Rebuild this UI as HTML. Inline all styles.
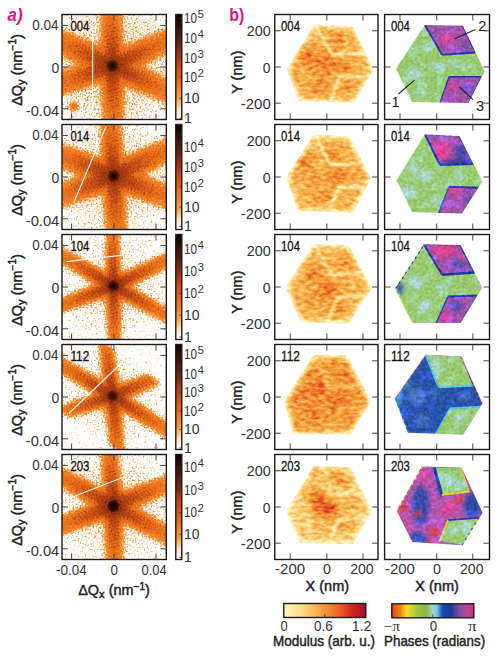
<!DOCTYPE html><html><head><meta charset="utf-8"><style>html,body{margin:0;padding:0;background:#fff;width:500px;height:662px;overflow:hidden}svg{display:block}text{font-family:"Liberation Sans",sans-serif}</style></head><body>
<svg width="500" height="662" viewBox="0 0 500 662">
<defs>
<filter id="dcm" x="0" y="0" width="1" height="1" filterUnits="objectBoundingBox" color-interpolation-filters="sRGB">
<feComponentTransfer in="SourceGraphic" result="S"><feFuncR type="linear" slope="0.9091"/><feFuncG type="linear" slope="0.9091"/><feFuncB type="linear" slope="0.9091"/></feComponentTransfer>
<feComponentTransfer in="S" result="J"><feFuncR type="linear" slope="-1.3" intercept="1"/><feFuncG type="linear" slope="-1.3" intercept="1"/><feFuncB type="linear" slope="-1.3" intercept="1"/></feComponentTransfer>
<feTurbulence type="fractalNoise" baseFrequency="0.55" numOctaves="2" seed="3" result="n"/>
<feColorMatrix in="n" type="matrix" values="1 0 0 0 0 1 0 0 0 0 1 0 0 0 0 0 0 0 0 1" result="ng"/>
<feComposite in="J" in2="ng" operator="arithmetic" k1="1" k2="0" k3="0" k4="0" result="M"/>
<feComposite in="S" in2="M" operator="arithmetic" k1="0" k2="1.6500" k3="1.0" k4="-0.5000" result="s"/>
<feComponentTransfer in="s"><feFuncR type="table" tableValues="1.000 1.000 1.000 1.000 1.000 1.000 1.000 1.000 1.000 1.000 1.000 1.000 1.000 1.000 1.000 1.000 1.000 1.000 1.000 1.000 1.000 1.000 1.000 1.000 1.000 0.998 0.996 0.995 0.993 0.991 0.989 0.987 0.986 0.983 0.980 0.977 0.974 0.971 0.968 0.965 0.962 0.960 0.958 0.957 0.955 0.954 0.952 0.951 0.949 0.947 0.945 0.944 0.942 0.940 0.938 0.936 0.935 0.932 0.928 0.923 0.919 0.914 0.910 0.905 0.901 0.896 0.887 0.875 0.863 0.850 0.838 0.826 0.813 0.801 0.782 0.762 0.742 0.723 0.703 0.683 0.663 0.644 0.622 0.590 0.559 0.527 0.496 0.464 0.433 0.402 0.370 0.341 0.315 0.296 0.280 0.264 0.249 0.233 0.217 0.201 0.186 0.170 0.154 0.138 0.124 0.119 0.114 0.108 0.103 0.098 0.092 0.087 0.082 0.076 0.071 0.066 0.061 0.055 0.050 0.045 0.039"/><feFuncG type="table" tableValues="1.000 1.000 1.000 1.000 1.000 1.000 1.000 1.000 1.000 1.000 1.000 1.000 1.000 1.000 1.000 1.000 0.995 0.988 0.982 0.975 0.968 0.961 0.955 0.948 0.941 0.927 0.912 0.898 0.884 0.869 0.855 0.841 0.826 0.810 0.790 0.769 0.748 0.728 0.707 0.687 0.666 0.649 0.634 0.618 0.603 0.587 0.572 0.557 0.541 0.534 0.527 0.520 0.512 0.505 0.498 0.491 0.484 0.477 0.470 0.464 0.458 0.452 0.445 0.439 0.433 0.426 0.416 0.403 0.390 0.376 0.363 0.349 0.336 0.323 0.312 0.301 0.290 0.279 0.269 0.258 0.247 0.236 0.225 0.210 0.196 0.182 0.167 0.153 0.139 0.124 0.110 0.098 0.089 0.082 0.077 0.071 0.066 0.061 0.055 0.050 0.044 0.039 0.033 0.028 0.023 0.022 0.020 0.019 0.017 0.016 0.015 0.013 0.012 0.010 0.009 0.007 0.006 0.004 0.003 0.001 0.000"/><feFuncB type="table" tableValues="1.000 1.000 1.000 1.000 1.000 1.000 1.000 1.000 1.000 1.000 1.000 1.000 1.000 1.000 1.000 1.000 0.990 0.976 0.962 0.948 0.934 0.920 0.906 0.892 0.878 0.850 0.821 0.792 0.763 0.735 0.706 0.677 0.648 0.618 0.586 0.553 0.520 0.487 0.454 0.421 0.388 0.359 0.333 0.306 0.279 0.253 0.226 0.199 0.173 0.166 0.160 0.154 0.147 0.141 0.135 0.129 0.122 0.117 0.115 0.114 0.112 0.110 0.108 0.106 0.105 0.103 0.101 0.099 0.097 0.095 0.093 0.091 0.089 0.086 0.085 0.083 0.081 0.079 0.077 0.076 0.074 0.072 0.070 0.066 0.063 0.059 0.056 0.052 0.048 0.045 0.041 0.038 0.037 0.035 0.034 0.033 0.032 0.031 0.030 0.029 0.028 0.027 0.025 0.024 0.023 0.022 0.020 0.019 0.017 0.016 0.015 0.013 0.012 0.010 0.009 0.007 0.006 0.004 0.003 0.001 0.000"/><feFuncA type="linear" slope="0" intercept="1"/></feComponentTransfer><feGaussianBlur stdDeviation="0.45"/>
</filter>
<filter id="bl3" x="-20%" y="-20%" width="140%" height="140%"><feGaussianBlur stdDeviation="3"/></filter>
<filter id="bl07" x="-20%" y="-20%" width="140%" height="140%"><feGaussianBlur stdDeviation="0.7"/></filter>
<filter id="bl2" x="-20%" y="-20%" width="140%" height="140%"><feGaussianBlur stdDeviation="2"/></filter>
<radialGradient id="glow"><stop offset="0" stop-color="#fff" stop-opacity="0.55"/><stop offset="1" stop-color="#fff" stop-opacity="0"/></radialGradient>
<radialGradient id="core"><stop offset="0" stop-color="#fff" stop-opacity="1"/><stop offset="0.35" stop-color="#fff" stop-opacity="0.85"/><stop offset="1" stop-color="#fff" stop-opacity="0"/></radialGradient>

<filter id="mcm" x="0" y="0" width="1" height="1" filterUnits="objectBoundingBox" color-interpolation-filters="sRGB">
<feTurbulence type="fractalNoise" baseFrequency="0.16 0.3" numOctaves="2" seed="7" result="n"/>
<feColorMatrix in="n" type="matrix" values="1 0 0 0 0 1 0 0 0 0 1 0 0 0 0 0 0 0 0 1" result="ng"/>
<feComposite in="SourceGraphic" in2="ng" operator="arithmetic" k1="0" k2="1" k3="0.7" k4="-0.35" result="s"/>
<feComponentTransfer in="s"><feFuncR type="table" tableValues="1.000 0.999 0.998 0.996 0.995 0.994 0.993 0.992 0.991 0.989 0.988 0.985 0.982 0.979 0.976 0.973 0.969 0.966 0.963 0.960 0.957 0.952 0.947 0.942 0.937 0.932 0.924 0.917 0.909 0.902 0.894 0.867 0.841 0.814 0.787 0.761 0.734 0.707 0.681 0.654 0.627"/><feFuncG type="table" tableValues="0.973 0.958 0.943 0.928 0.913 0.898 0.883 0.868 0.853 0.838 0.824 0.804 0.784 0.765 0.745 0.725 0.706 0.686 0.667 0.647 0.627 0.598 0.569 0.539 0.510 0.480 0.446 0.413 0.380 0.347 0.314 0.289 0.264 0.238 0.213 0.188 0.163 0.138 0.113 0.088 0.063"/><feFuncB type="table" tableValues="0.784 0.754 0.723 0.693 0.662 0.631 0.601 0.570 0.540 0.509 0.478 0.453 0.427 0.401 0.375 0.349 0.323 0.297 0.271 0.245 0.220 0.211 0.203 0.195 0.187 0.178 0.166 0.154 0.142 0.130 0.118 0.122 0.127 0.132 0.136 0.141 0.146 0.151 0.155 0.160 0.165"/><feFuncA type="linear" slope="0" intercept="1"/></feComponentTransfer><feGaussianBlur stdDeviation="0.4"/>
</filter>
<filter id="pnz" x="0" y="0" width="1" height="1" filterUnits="objectBoundingBox" color-interpolation-filters="sRGB">
<feTurbulence type="fractalNoise" baseFrequency="0.11" numOctaves="3" seed="5" result="lo"/>
<feComponentTransfer in="lo" result="lot"><feFuncR type="linear" slope="3.5" intercept="-1.75"/></feComponentTransfer>
<feColorMatrix in="lot" type="matrix" values="0.05 0 0 0 0  0.06 0 0 0 0  0.26 0 0 0 0  0 0 0 0 1" result="cy"/>
<feComposite in="SourceGraphic" in2="cy" operator="arithmetic" k1="0" k2="1" k3="1" k4="0" result="s1"/>
<feTurbulence type="fractalNoise" baseFrequency="0.35" numOctaves="2" seed="11" result="n"/>
<feColorMatrix in="n" type="matrix" values="1 0 0 0 0 1 0 0 0 0 1 0 0 0 0 0 0 0 0 1" result="ng"/>
<feComposite in="s1" in2="ng" operator="arithmetic" k1="0" k2="1" k3="0.22" k4="-0.11"/>
<feGaussianBlur stdDeviation="0.4"/>
</filter>
<filter id="bl4" x="-50%" y="-50%" width="200%" height="200%"><feGaussianBlur stdDeviation="4"/></filter>
<filter id="bl1" x="-20%" y="-20%" width="140%" height="140%"><feGaussianBlur stdDeviation="1"/></filter>

</defs>
<clipPath id="cpa0"><rect x="62" y="14.5" width="104.30000000000001" height="105.0"/></clipPath>
<radialGradient id="gl0" gradientUnits="userSpaceOnUse" cx="112.4" cy="65.9" r="90"><stop offset="0" stop-color="#5c5c5c"/><stop offset="0.55" stop-color="#373737"/><stop offset="1" stop-color="#000"/></radialGradient>
<radialGradient id="gn0" gradientUnits="userSpaceOnUse" cx="112.4" cy="65.9" r="34"><stop offset="0" stop-color="#808080"/><stop offset="0.5" stop-color="#545454"/><stop offset="1" stop-color="#000"/></radialGradient>
<radialGradient id="co0" gradientUnits="userSpaceOnUse" cx="112.4" cy="65.9" r="18"><stop offset="0" stop-color="#fff"/><stop offset="0.15" stop-color="#ebebeb"/><stop offset="0.35" stop-color="#c2c2c2"/><stop offset="0.65" stop-color="#a3a3a3"/><stop offset="1" stop-color="#000"/></radialGradient>
<g clip-path="url(#cpa0)"><g filter="url(#dcm)">
<rect x="62" y="14.5" width="104.30000000000001" height="105.0" fill="#000"/>
<g filter="url(#bl2)">
<rect x="57" y="9.5" width="114.30000000000001" height="115.0" fill="url(#gl0)"/>
<circle cx="112.4" cy="65.9" r="34" fill="url(#gn0)" style="mix-blend-mode:lighten"/>
<linearGradient id="ag0_-91" x1="0" y1="0" x2="1" y2="0"><stop offset="0" stop-color="#a3a3a3"/><stop offset="0.4" stop-color="#8c8c8c"/><stop offset="1" stop-color="#6e6e6e"/></linearGradient>
<linearGradient id="ag0_-91b" x1="0" y1="0" x2="1" y2="0"><stop offset="0" stop-color="#cccccc"/><stop offset="0.3" stop-color="#b2b2b2"/><stop offset="0.65" stop-color="#999999"/><stop offset="1" stop-color="#808080"/></linearGradient>
<g transform="translate(112.4,65.9) rotate(-91.02)" style="mix-blend-mode:lighten"><rect x="0" y="-10.8" width="66.00892785976178" height="21.6" fill="url(#ag0_-91)"/></g>
<g transform="translate(112.4,65.9) rotate(-91.02)" style="mix-blend-mode:lighten"><rect x="0" y="-4.9" width="66.00892785976178" height="9.7" fill="url(#ag0_-91b)"/></g>
<linearGradient id="ag0_88" x1="0" y1="0" x2="1" y2="0"><stop offset="0" stop-color="#a3a3a3"/><stop offset="0.4" stop-color="#8c8c8c"/><stop offset="1" stop-color="#6e6e6e"/></linearGradient>
<linearGradient id="ag0_88b" x1="0" y1="0" x2="1" y2="0"><stop offset="0" stop-color="#cccccc"/><stop offset="0.3" stop-color="#b2b2b2"/><stop offset="0.65" stop-color="#999999"/><stop offset="1" stop-color="#808080"/></linearGradient>
<g transform="translate(112.4,65.9) rotate(88.98)" style="mix-blend-mode:lighten"><rect x="0" y="-10.8" width="66.00892785976178" height="21.6" fill="url(#ag0_88)"/></g>
<g transform="translate(112.4,65.9) rotate(88.98)" style="mix-blend-mode:lighten"><rect x="0" y="-4.9" width="66.00892785976178" height="9.7" fill="url(#ag0_88b)"/></g>
<linearGradient id="ag0_-24" x1="0" y1="0" x2="1" y2="0"><stop offset="0" stop-color="#a3a3a3"/><stop offset="0.4" stop-color="#8c8c8c"/><stop offset="1" stop-color="#6e6e6e"/></linearGradient>
<linearGradient id="ag0_-24b" x1="0" y1="0" x2="1" y2="0"><stop offset="0" stop-color="#cccccc"/><stop offset="0.3" stop-color="#b2b2b2"/><stop offset="0.65" stop-color="#999999"/><stop offset="1" stop-color="#808080"/></linearGradient>
<g transform="translate(112.4,65.9) rotate(-24.90)" style="mix-blend-mode:lighten"><rect x="0" y="-12.0" width="71.74139616173252" height="24.0" fill="url(#ag0_-24)"/></g>
<g transform="translate(112.4,65.9) rotate(-24.90)" style="mix-blend-mode:lighten"><rect x="0" y="-5.4" width="71.74139616173252" height="10.8" fill="url(#ag0_-24b)"/></g>
<linearGradient id="ag0_161" x1="0" y1="0" x2="1" y2="0"><stop offset="0" stop-color="#a3a3a3"/><stop offset="0.4" stop-color="#8c8c8c"/><stop offset="1" stop-color="#6e6e6e"/></linearGradient>
<linearGradient id="ag0_161b" x1="0" y1="0" x2="1" y2="0"><stop offset="0" stop-color="#cccccc"/><stop offset="0.3" stop-color="#b2b2b2"/><stop offset="0.65" stop-color="#999999"/><stop offset="1" stop-color="#808080"/></linearGradient>
<g transform="translate(112.4,65.9) rotate(161.26)" style="mix-blend-mode:lighten"><rect x="0" y="-12.0" width="69.13543776789007" height="24.0" fill="url(#ag0_161)"/></g>
<g transform="translate(112.4,65.9) rotate(161.26)" style="mix-blend-mode:lighten"><rect x="0" y="-5.4" width="69.13543776789007" height="10.8" fill="url(#ag0_161b)"/></g>
<linearGradient id="ag0_-155" x1="0" y1="0" x2="1" y2="0"><stop offset="0" stop-color="#a3a3a3"/><stop offset="0.4" stop-color="#8c8c8c"/><stop offset="1" stop-color="#6e6e6e"/></linearGradient>
<linearGradient id="ag0_-155b" x1="0" y1="0" x2="1" y2="0"><stop offset="0" stop-color="#cccccc"/><stop offset="0.3" stop-color="#b2b2b2"/><stop offset="0.65" stop-color="#999999"/><stop offset="1" stop-color="#808080"/></linearGradient>
<g transform="translate(112.4,65.9) rotate(-155.10)" style="mix-blend-mode:lighten"><rect x="0" y="-12.6" width="71.74139616173252" height="25.2" fill="url(#ag0_-155)"/></g>
<g transform="translate(112.4,65.9) rotate(-155.10)" style="mix-blend-mode:lighten"><rect x="0" y="-5.7" width="71.74139616173252" height="11.3" fill="url(#ag0_-155b)"/></g>
<linearGradient id="ag0_24" x1="0" y1="0" x2="1" y2="0"><stop offset="0" stop-color="#a3a3a3"/><stop offset="0.4" stop-color="#8c8c8c"/><stop offset="1" stop-color="#6e6e6e"/></linearGradient>
<linearGradient id="ag0_24b" x1="0" y1="0" x2="1" y2="0"><stop offset="0" stop-color="#cccccc"/><stop offset="0.3" stop-color="#b2b2b2"/><stop offset="0.65" stop-color="#999999"/><stop offset="1" stop-color="#808080"/></linearGradient>
<g transform="translate(112.4,65.9) rotate(24.90)" style="mix-blend-mode:lighten"><rect x="0" y="-12.0" width="71.74139616173252" height="24.0" fill="url(#ag0_24)"/></g>
<g transform="translate(112.4,65.9) rotate(24.90)" style="mix-blend-mode:lighten"><rect x="0" y="-5.4" width="71.74139616173252" height="10.8" fill="url(#ag0_24b)"/></g>
<circle cx="112.4" cy="65.9" r="18" fill="url(#co0)" style="mix-blend-mode:lighten"/>
<circle cx="73.5" cy="106.4" r="3.5" fill="#a8a8a8" style="mix-blend-mode:lighten"/>
</g>
<g filter="url(#bl07)">
<g transform="translate(112.4,65.9) rotate(-91.02)" style="mix-blend-mode:lighten">
<line x1="5.3" y1="-6.3" x2="8.3" y2="6.3" stroke="#bfbfbf" stroke-width="1.2"/>
<line x1="8.7" y1="-6.3" x2="11.7" y2="6.3" stroke="#bdbdbd" stroke-width="1.2"/>
<line x1="12.1" y1="-6.3" x2="15.1" y2="6.3" stroke="#bababa" stroke-width="1.2"/>
<line x1="15.5" y1="-6.3" x2="18.5" y2="6.3" stroke="#b8b8b8" stroke-width="1.2"/>
<line x1="18.9" y1="-6.3" x2="21.9" y2="6.3" stroke="#b5b5b5" stroke-width="1.2"/>
<line x1="22.3" y1="-6.3" x2="25.3" y2="6.3" stroke="#b2b2b2" stroke-width="1.2"/>
<line x1="25.7" y1="-6.3" x2="28.7" y2="6.3" stroke="#b0b0b0" stroke-width="1.2"/>
<line x1="29.1" y1="-6.3" x2="32.1" y2="6.3" stroke="#adadad" stroke-width="1.2"/>
<line x1="32.5" y1="-6.3" x2="35.5" y2="6.3" stroke="#ababab" stroke-width="1.2"/>
<line x1="35.9" y1="-6.3" x2="38.9" y2="6.3" stroke="#a8a8a8" stroke-width="1.2"/>
<line x1="39.3" y1="-6.3" x2="42.3" y2="6.3" stroke="#a6a6a6" stroke-width="1.2"/>
</g>
<g transform="translate(112.4,65.9) rotate(88.98)" style="mix-blend-mode:lighten">
<line x1="5.3" y1="-6.3" x2="8.3" y2="6.3" stroke="#bfbfbf" stroke-width="1.2"/>
<line x1="8.7" y1="-6.3" x2="11.7" y2="6.3" stroke="#bdbdbd" stroke-width="1.2"/>
<line x1="12.1" y1="-6.3" x2="15.1" y2="6.3" stroke="#bababa" stroke-width="1.2"/>
<line x1="15.5" y1="-6.3" x2="18.5" y2="6.3" stroke="#b8b8b8" stroke-width="1.2"/>
<line x1="18.9" y1="-6.3" x2="21.9" y2="6.3" stroke="#b5b5b5" stroke-width="1.2"/>
<line x1="22.3" y1="-6.3" x2="25.3" y2="6.3" stroke="#b2b2b2" stroke-width="1.2"/>
<line x1="25.7" y1="-6.3" x2="28.7" y2="6.3" stroke="#b0b0b0" stroke-width="1.2"/>
<line x1="29.1" y1="-6.3" x2="32.1" y2="6.3" stroke="#adadad" stroke-width="1.2"/>
<line x1="32.5" y1="-6.3" x2="35.5" y2="6.3" stroke="#ababab" stroke-width="1.2"/>
<line x1="35.9" y1="-6.3" x2="38.9" y2="6.3" stroke="#a8a8a8" stroke-width="1.2"/>
<line x1="39.3" y1="-6.3" x2="42.3" y2="6.3" stroke="#a6a6a6" stroke-width="1.2"/>
</g>
<g transform="translate(112.4,65.9) rotate(-24.90)" style="mix-blend-mode:lighten">
<line x1="5.3" y1="-7.0" x2="8.3" y2="7.0" stroke="#bfbfbf" stroke-width="1.2"/>
<line x1="8.7" y1="-7.0" x2="11.7" y2="7.0" stroke="#bdbdbd" stroke-width="1.2"/>
<line x1="12.1" y1="-7.0" x2="15.1" y2="7.0" stroke="#bababa" stroke-width="1.2"/>
<line x1="15.5" y1="-7.0" x2="18.5" y2="7.0" stroke="#b8b8b8" stroke-width="1.2"/>
<line x1="18.9" y1="-7.0" x2="21.9" y2="7.0" stroke="#b5b5b5" stroke-width="1.2"/>
<line x1="22.3" y1="-7.0" x2="25.3" y2="7.0" stroke="#b2b2b2" stroke-width="1.2"/>
<line x1="25.7" y1="-7.0" x2="28.7" y2="7.0" stroke="#b0b0b0" stroke-width="1.2"/>
<line x1="29.1" y1="-7.0" x2="32.1" y2="7.0" stroke="#adadad" stroke-width="1.2"/>
<line x1="32.5" y1="-7.0" x2="35.5" y2="7.0" stroke="#ababab" stroke-width="1.2"/>
<line x1="35.9" y1="-7.0" x2="38.9" y2="7.0" stroke="#a8a8a8" stroke-width="1.2"/>
<line x1="39.3" y1="-7.0" x2="42.3" y2="7.0" stroke="#a6a6a6" stroke-width="1.2"/>
</g>
<g transform="translate(112.4,65.9) rotate(161.26)" style="mix-blend-mode:lighten">
<line x1="5.3" y1="-7.0" x2="8.3" y2="7.0" stroke="#bfbfbf" stroke-width="1.2"/>
<line x1="8.7" y1="-7.0" x2="11.7" y2="7.0" stroke="#bdbdbd" stroke-width="1.2"/>
<line x1="12.1" y1="-7.0" x2="15.1" y2="7.0" stroke="#bababa" stroke-width="1.2"/>
<line x1="15.5" y1="-7.0" x2="18.5" y2="7.0" stroke="#b8b8b8" stroke-width="1.2"/>
<line x1="18.9" y1="-7.0" x2="21.9" y2="7.0" stroke="#b5b5b5" stroke-width="1.2"/>
<line x1="22.3" y1="-7.0" x2="25.3" y2="7.0" stroke="#b2b2b2" stroke-width="1.2"/>
<line x1="25.7" y1="-7.0" x2="28.7" y2="7.0" stroke="#b0b0b0" stroke-width="1.2"/>
<line x1="29.1" y1="-7.0" x2="32.1" y2="7.0" stroke="#adadad" stroke-width="1.2"/>
<line x1="32.5" y1="-7.0" x2="35.5" y2="7.0" stroke="#ababab" stroke-width="1.2"/>
<line x1="35.9" y1="-7.0" x2="38.9" y2="7.0" stroke="#a8a8a8" stroke-width="1.2"/>
<line x1="39.3" y1="-7.0" x2="42.3" y2="7.0" stroke="#a6a6a6" stroke-width="1.2"/>
</g>
<g transform="translate(112.4,65.9) rotate(-155.10)" style="mix-blend-mode:lighten">
<line x1="5.3" y1="-7.3" x2="8.3" y2="7.3" stroke="#bfbfbf" stroke-width="1.2"/>
<line x1="8.7" y1="-7.3" x2="11.7" y2="7.3" stroke="#bdbdbd" stroke-width="1.2"/>
<line x1="12.1" y1="-7.3" x2="15.1" y2="7.3" stroke="#bababa" stroke-width="1.2"/>
<line x1="15.5" y1="-7.3" x2="18.5" y2="7.3" stroke="#b8b8b8" stroke-width="1.2"/>
<line x1="18.9" y1="-7.3" x2="21.9" y2="7.3" stroke="#b5b5b5" stroke-width="1.2"/>
<line x1="22.3" y1="-7.3" x2="25.3" y2="7.3" stroke="#b2b2b2" stroke-width="1.2"/>
<line x1="25.7" y1="-7.3" x2="28.7" y2="7.3" stroke="#b0b0b0" stroke-width="1.2"/>
<line x1="29.1" y1="-7.3" x2="32.1" y2="7.3" stroke="#adadad" stroke-width="1.2"/>
<line x1="32.5" y1="-7.3" x2="35.5" y2="7.3" stroke="#ababab" stroke-width="1.2"/>
<line x1="35.9" y1="-7.3" x2="38.9" y2="7.3" stroke="#a8a8a8" stroke-width="1.2"/>
<line x1="39.3" y1="-7.3" x2="42.3" y2="7.3" stroke="#a6a6a6" stroke-width="1.2"/>
</g>
<g transform="translate(112.4,65.9) rotate(24.90)" style="mix-blend-mode:lighten">
<line x1="5.3" y1="-7.0" x2="8.3" y2="7.0" stroke="#bfbfbf" stroke-width="1.2"/>
<line x1="8.7" y1="-7.0" x2="11.7" y2="7.0" stroke="#bdbdbd" stroke-width="1.2"/>
<line x1="12.1" y1="-7.0" x2="15.1" y2="7.0" stroke="#bababa" stroke-width="1.2"/>
<line x1="15.5" y1="-7.0" x2="18.5" y2="7.0" stroke="#b8b8b8" stroke-width="1.2"/>
<line x1="18.9" y1="-7.0" x2="21.9" y2="7.0" stroke="#b5b5b5" stroke-width="1.2"/>
<line x1="22.3" y1="-7.0" x2="25.3" y2="7.0" stroke="#b2b2b2" stroke-width="1.2"/>
<line x1="25.7" y1="-7.0" x2="28.7" y2="7.0" stroke="#b0b0b0" stroke-width="1.2"/>
<line x1="29.1" y1="-7.0" x2="32.1" y2="7.0" stroke="#adadad" stroke-width="1.2"/>
<line x1="32.5" y1="-7.0" x2="35.5" y2="7.0" stroke="#ababab" stroke-width="1.2"/>
<line x1="35.9" y1="-7.0" x2="38.9" y2="7.0" stroke="#a8a8a8" stroke-width="1.2"/>
<line x1="39.3" y1="-7.0" x2="42.3" y2="7.0" stroke="#a6a6a6" stroke-width="1.2"/>
</g>
</g></g>
<line x1="92.6" y1="15" x2="92.6" y2="119" stroke="#fff" stroke-width="1.2" opacity="0.9"/>
</g>
<rect x="62" y="14.5" width="104.30000000000001" height="105.0" fill="none" stroke="#1a1a1a" stroke-width="1.4"/>
<line x1="62" y1="25.4" x2="68" y2="25.4" stroke="#444" stroke-width="1"/>
<line x1="166.3" y1="25.4" x2="160.3" y2="25.4" stroke="#444" stroke-width="1"/>
<line x1="62" y1="67.0" x2="68" y2="67.0" stroke="#444" stroke-width="1"/>
<line x1="166.3" y1="67.0" x2="160.3" y2="67.0" stroke="#444" stroke-width="1"/>
<line x1="62" y1="108.8" x2="68" y2="108.8" stroke="#444" stroke-width="1"/>
<line x1="166.3" y1="108.8" x2="160.3" y2="108.8" stroke="#444" stroke-width="1"/>
<line x1="71.6" y1="119.5" x2="71.6" y2="113.5" stroke="#444" stroke-width="1"/>
<line x1="71.6" y1="14.5" x2="71.6" y2="20.5" stroke="#444" stroke-width="1"/>
<line x1="113.9" y1="119.5" x2="113.9" y2="113.5" stroke="#444" stroke-width="1"/>
<line x1="113.9" y1="14.5" x2="113.9" y2="20.5" stroke="#444" stroke-width="1"/>
<line x1="156.0" y1="119.5" x2="156.0" y2="113.5" stroke="#444" stroke-width="1"/>
<line x1="156.0" y1="14.5" x2="156.0" y2="20.5" stroke="#444" stroke-width="1"/>
<text x="70.4" y="30.7" font-size="14.2" text-anchor="start" fill="#111" textLength="18.8" lengthAdjust="spacingAndGlyphs" stroke="#111" stroke-width="0.3">004</text>
<text x="32.3" y="29.8" font-size="15" fill="#333" textLength="26.2" lengthAdjust="spacingAndGlyphs" >0.04</text>
<text x="51.5" y="72.7" font-size="15" fill="#333" textLength="7.8" lengthAdjust="spacingAndGlyphs" >0</text>
<text x="25.8" y="115.9" font-size="15" fill="#333" textLength="33.5" lengthAdjust="spacingAndGlyphs" >-0.04</text>
<text transform="translate(21.5,70.0) rotate(-90)" font-size="14.5" text-anchor="middle" fill="#222" stroke="#222" stroke-width="0.45">ΔQ<tspan font-size="11" dy="3">y</tspan><tspan dy="-3"> (nm</tspan><tspan font-size="10" dy="-5.5">−1</tspan><tspan dy="5.5">)</tspan></text>
<linearGradient id="cbg0" x1="0" y1="1" x2="0" y2="0"><stop offset="0" stop-color="#ffffff"/><stop offset="0.1" stop-color="#fce2c4"/><stop offset="0.2" stop-color="#f5a445"/><stop offset="0.36" stop-color="#ea6e18"/><stop offset="0.56" stop-color="#bf3e18"/><stop offset="0.76" stop-color="#5a1c10"/><stop offset="1" stop-color="#100404"/></linearGradient>
<rect x="175.8" y="14.5" width="6" height="105.0" fill="url(#cbg0)" stroke="#1a1a1a" stroke-width="1.4"/>
<line x1="181.8" y1="18.2" x2="179.3" y2="18.2" stroke="#333" stroke-width="0.8"/>
<text x="184" y="23.1" font-size="14" fill="#333"><tspan textLength="13" lengthAdjust="spacingAndGlyphs">10</tspan><tspan font-size="11" dx="0.8" dy="-5">5</tspan></text>
<line x1="181.8" y1="38.1" x2="179.3" y2="38.1" stroke="#333" stroke-width="0.8"/>
<text x="184" y="43.0" font-size="14" fill="#333"><tspan textLength="13" lengthAdjust="spacingAndGlyphs">10</tspan><tspan font-size="11" dx="0.8" dy="-5">4</tspan></text>
<line x1="181.8" y1="58.0" x2="179.3" y2="58.0" stroke="#333" stroke-width="0.8"/>
<text x="184" y="62.9" font-size="14" fill="#333"><tspan textLength="13" lengthAdjust="spacingAndGlyphs">10</tspan><tspan font-size="11" dx="0.8" dy="-5">3</tspan></text>
<line x1="181.8" y1="77.0" x2="179.3" y2="77.0" stroke="#333" stroke-width="0.8"/>
<text x="184" y="81.9" font-size="14" fill="#333"><tspan textLength="13" lengthAdjust="spacingAndGlyphs">10</tspan><tspan font-size="11" dx="0.8" dy="-5">2</tspan></text>
<line x1="181.8" y1="98.3" x2="179.3" y2="98.3" stroke="#333" stroke-width="0.8"/>
<text x="184" y="103.2" font-size="14" fill="#333">10</text>
<line x1="181.8" y1="118.3" x2="179.3" y2="118.3" stroke="#333" stroke-width="0.8"/>
<text x="184" y="123.2" font-size="14" fill="#333">1</text>
<clipPath id="cpa1"><rect x="62" y="124.5" width="104.30000000000001" height="105.0"/></clipPath>
<radialGradient id="gl1" gradientUnits="userSpaceOnUse" cx="113.5" cy="176.0" r="80"><stop offset="0" stop-color="#575757"/><stop offset="0.55" stop-color="#303030"/><stop offset="1" stop-color="#000"/></radialGradient>
<radialGradient id="gn1" gradientUnits="userSpaceOnUse" cx="113.5" cy="176.0" r="34"><stop offset="0" stop-color="#808080"/><stop offset="0.5" stop-color="#545454"/><stop offset="1" stop-color="#000"/></radialGradient>
<radialGradient id="co1" gradientUnits="userSpaceOnUse" cx="113.5" cy="176.0" r="18"><stop offset="0" stop-color="#fff"/><stop offset="0.15" stop-color="#ebebeb"/><stop offset="0.35" stop-color="#c2c2c2"/><stop offset="0.65" stop-color="#a3a3a3"/><stop offset="1" stop-color="#000"/></radialGradient>
<g clip-path="url(#cpa1)"><g filter="url(#dcm)">
<rect x="62" y="124.5" width="104.30000000000001" height="105.0" fill="#000"/>
<g filter="url(#bl2)">
<rect x="57" y="119.5" width="114.30000000000001" height="115.0" fill="url(#gl1)"/>
<circle cx="113.5" cy="176.0" r="34" fill="url(#gn1)" style="mix-blend-mode:lighten"/>
<linearGradient id="ag1_-93" x1="0" y1="0" x2="1" y2="0"><stop offset="0" stop-color="#a3a3a3"/><stop offset="0.4" stop-color="#8c8c8c"/><stop offset="1" stop-color="#6e6e6e"/></linearGradient>
<linearGradient id="ag1_-93b" x1="0" y1="0" x2="1" y2="0"><stop offset="0" stop-color="#cccccc"/><stop offset="0.3" stop-color="#b2b2b2"/><stop offset="0.65" stop-color="#999999"/><stop offset="1" stop-color="#808080"/></linearGradient>
<g transform="translate(113.5,176.0) rotate(-93.07)" style="mix-blend-mode:lighten"><rect x="0" y="-10.8" width="66.0802995712398" height="21.6" fill="url(#ag1_-93)"/></g>
<g transform="translate(113.5,176.0) rotate(-93.07)" style="mix-blend-mode:lighten"><rect x="0" y="-4.9" width="66.0802995712398" height="9.7" fill="url(#ag1_-93b)"/></g>
<linearGradient id="ag1_86" x1="0" y1="0" x2="1" y2="0"><stop offset="0" stop-color="#a3a3a3"/><stop offset="0.4" stop-color="#8c8c8c"/><stop offset="1" stop-color="#6e6e6e"/></linearGradient>
<linearGradient id="ag1_86b" x1="0" y1="0" x2="1" y2="0"><stop offset="0" stop-color="#cccccc"/><stop offset="0.3" stop-color="#b2b2b2"/><stop offset="0.65" stop-color="#999999"/><stop offset="1" stop-color="#808080"/></linearGradient>
<g transform="translate(113.5,176.0) rotate(86.93)" style="mix-blend-mode:lighten"><rect x="0" y="-10.8" width="66.0802995712398" height="21.6" fill="url(#ag1_86)"/></g>
<g transform="translate(113.5,176.0) rotate(86.93)" style="mix-blend-mode:lighten"><rect x="0" y="-4.9" width="66.0802995712398" height="9.7" fill="url(#ag1_86b)"/></g>
<linearGradient id="ag1_-25" x1="0" y1="0" x2="1" y2="0"><stop offset="0" stop-color="#a3a3a3"/><stop offset="0.4" stop-color="#8c8c8c"/><stop offset="1" stop-color="#6e6e6e"/></linearGradient>
<linearGradient id="ag1_-25b" x1="0" y1="0" x2="1" y2="0"><stop offset="0" stop-color="#cccccc"/><stop offset="0.3" stop-color="#b2b2b2"/><stop offset="0.65" stop-color="#999999"/><stop offset="1" stop-color="#808080"/></linearGradient>
<g transform="translate(113.5,176.0) rotate(-25.74)" style="mix-blend-mode:lighten"><rect x="0" y="-12.0" width="72.16912416947821" height="24.0" fill="url(#ag1_-25)"/></g>
<g transform="translate(113.5,176.0) rotate(-25.74)" style="mix-blend-mode:lighten"><rect x="0" y="-5.4" width="72.16912416947821" height="10.8" fill="url(#ag1_-25b)"/></g>
<linearGradient id="ag1_159" x1="0" y1="0" x2="1" y2="0"><stop offset="0" stop-color="#a3a3a3"/><stop offset="0.4" stop-color="#8c8c8c"/><stop offset="1" stop-color="#6e6e6e"/></linearGradient>
<linearGradient id="ag1_159b" x1="0" y1="0" x2="1" y2="0"><stop offset="0" stop-color="#cccccc"/><stop offset="0.3" stop-color="#b2b2b2"/><stop offset="0.65" stop-color="#999999"/><stop offset="1" stop-color="#808080"/></linearGradient>
<g transform="translate(113.5,176.0) rotate(159.44)" style="mix-blend-mode:lighten"><rect x="0" y="-12.0" width="69.80802621722272" height="24.0" fill="url(#ag1_159)"/></g>
<g transform="translate(113.5,176.0) rotate(159.44)" style="mix-blend-mode:lighten"><rect x="0" y="-5.4" width="69.80802621722272" height="10.8" fill="url(#ag1_159b)"/></g>
<linearGradient id="ag1_-158" x1="0" y1="0" x2="1" y2="0"><stop offset="0" stop-color="#a3a3a3"/><stop offset="0.4" stop-color="#8c8c8c"/><stop offset="1" stop-color="#6e6e6e"/></linearGradient>
<linearGradient id="ag1_-158b" x1="0" y1="0" x2="1" y2="0"><stop offset="0" stop-color="#cccccc"/><stop offset="0.3" stop-color="#b2b2b2"/><stop offset="0.65" stop-color="#999999"/><stop offset="1" stop-color="#808080"/></linearGradient>
<g transform="translate(113.5,176.0) rotate(-158.55)" style="mix-blend-mode:lighten"><rect x="0" y="-12.0" width="70.1664358259653" height="24.0" fill="url(#ag1_-158)"/></g>
<g transform="translate(113.5,176.0) rotate(-158.55)" style="mix-blend-mode:lighten"><rect x="0" y="-5.4" width="70.1664358259653" height="10.8" fill="url(#ag1_-158b)"/></g>
<linearGradient id="ag1_21" x1="0" y1="0" x2="1" y2="0"><stop offset="0" stop-color="#a3a3a3"/><stop offset="0.4" stop-color="#8c8c8c"/><stop offset="1" stop-color="#6e6e6e"/></linearGradient>
<linearGradient id="ag1_21b" x1="0" y1="0" x2="1" y2="0"><stop offset="0" stop-color="#cccccc"/><stop offset="0.3" stop-color="#b2b2b2"/><stop offset="0.65" stop-color="#999999"/><stop offset="1" stop-color="#808080"/></linearGradient>
<g transform="translate(113.5,176.0) rotate(21.45)" style="mix-blend-mode:lighten"><rect x="0" y="-12.0" width="70.1664358259653" height="24.0" fill="url(#ag1_21)"/></g>
<g transform="translate(113.5,176.0) rotate(21.45)" style="mix-blend-mode:lighten"><rect x="0" y="-5.4" width="70.1664358259653" height="10.8" fill="url(#ag1_21b)"/></g>
<circle cx="113.5" cy="176.0" r="18" fill="url(#co1)" style="mix-blend-mode:lighten"/>
</g>
<g filter="url(#bl07)">
<g transform="translate(113.5,176.0) rotate(-93.07)" style="mix-blend-mode:lighten">
<line x1="5.3" y1="-6.3" x2="8.3" y2="6.3" stroke="#bfbfbf" stroke-width="1.2"/>
<line x1="8.7" y1="-6.3" x2="11.7" y2="6.3" stroke="#bdbdbd" stroke-width="1.2"/>
<line x1="12.1" y1="-6.3" x2="15.1" y2="6.3" stroke="#bababa" stroke-width="1.2"/>
<line x1="15.5" y1="-6.3" x2="18.5" y2="6.3" stroke="#b8b8b8" stroke-width="1.2"/>
<line x1="18.9" y1="-6.3" x2="21.9" y2="6.3" stroke="#b5b5b5" stroke-width="1.2"/>
<line x1="22.3" y1="-6.3" x2="25.3" y2="6.3" stroke="#b2b2b2" stroke-width="1.2"/>
<line x1="25.7" y1="-6.3" x2="28.7" y2="6.3" stroke="#b0b0b0" stroke-width="1.2"/>
<line x1="29.1" y1="-6.3" x2="32.1" y2="6.3" stroke="#adadad" stroke-width="1.2"/>
<line x1="32.5" y1="-6.3" x2="35.5" y2="6.3" stroke="#ababab" stroke-width="1.2"/>
<line x1="35.9" y1="-6.3" x2="38.9" y2="6.3" stroke="#a8a8a8" stroke-width="1.2"/>
<line x1="39.3" y1="-6.3" x2="42.3" y2="6.3" stroke="#a6a6a6" stroke-width="1.2"/>
</g>
<g transform="translate(113.5,176.0) rotate(86.93)" style="mix-blend-mode:lighten">
<line x1="5.3" y1="-6.3" x2="8.3" y2="6.3" stroke="#bfbfbf" stroke-width="1.2"/>
<line x1="8.7" y1="-6.3" x2="11.7" y2="6.3" stroke="#bdbdbd" stroke-width="1.2"/>
<line x1="12.1" y1="-6.3" x2="15.1" y2="6.3" stroke="#bababa" stroke-width="1.2"/>
<line x1="15.5" y1="-6.3" x2="18.5" y2="6.3" stroke="#b8b8b8" stroke-width="1.2"/>
<line x1="18.9" y1="-6.3" x2="21.9" y2="6.3" stroke="#b5b5b5" stroke-width="1.2"/>
<line x1="22.3" y1="-6.3" x2="25.3" y2="6.3" stroke="#b2b2b2" stroke-width="1.2"/>
<line x1="25.7" y1="-6.3" x2="28.7" y2="6.3" stroke="#b0b0b0" stroke-width="1.2"/>
<line x1="29.1" y1="-6.3" x2="32.1" y2="6.3" stroke="#adadad" stroke-width="1.2"/>
<line x1="32.5" y1="-6.3" x2="35.5" y2="6.3" stroke="#ababab" stroke-width="1.2"/>
<line x1="35.9" y1="-6.3" x2="38.9" y2="6.3" stroke="#a8a8a8" stroke-width="1.2"/>
<line x1="39.3" y1="-6.3" x2="42.3" y2="6.3" stroke="#a6a6a6" stroke-width="1.2"/>
</g>
<g transform="translate(113.5,176.0) rotate(-25.74)" style="mix-blend-mode:lighten">
<line x1="5.3" y1="-7.0" x2="8.3" y2="7.0" stroke="#bfbfbf" stroke-width="1.2"/>
<line x1="8.7" y1="-7.0" x2="11.7" y2="7.0" stroke="#bdbdbd" stroke-width="1.2"/>
<line x1="12.1" y1="-7.0" x2="15.1" y2="7.0" stroke="#bababa" stroke-width="1.2"/>
<line x1="15.5" y1="-7.0" x2="18.5" y2="7.0" stroke="#b8b8b8" stroke-width="1.2"/>
<line x1="18.9" y1="-7.0" x2="21.9" y2="7.0" stroke="#b5b5b5" stroke-width="1.2"/>
<line x1="22.3" y1="-7.0" x2="25.3" y2="7.0" stroke="#b2b2b2" stroke-width="1.2"/>
<line x1="25.7" y1="-7.0" x2="28.7" y2="7.0" stroke="#b0b0b0" stroke-width="1.2"/>
<line x1="29.1" y1="-7.0" x2="32.1" y2="7.0" stroke="#adadad" stroke-width="1.2"/>
<line x1="32.5" y1="-7.0" x2="35.5" y2="7.0" stroke="#ababab" stroke-width="1.2"/>
<line x1="35.9" y1="-7.0" x2="38.9" y2="7.0" stroke="#a8a8a8" stroke-width="1.2"/>
<line x1="39.3" y1="-7.0" x2="42.3" y2="7.0" stroke="#a6a6a6" stroke-width="1.2"/>
</g>
<g transform="translate(113.5,176.0) rotate(159.44)" style="mix-blend-mode:lighten">
<line x1="5.3" y1="-7.0" x2="8.3" y2="7.0" stroke="#bfbfbf" stroke-width="1.2"/>
<line x1="8.7" y1="-7.0" x2="11.7" y2="7.0" stroke="#bdbdbd" stroke-width="1.2"/>
<line x1="12.1" y1="-7.0" x2="15.1" y2="7.0" stroke="#bababa" stroke-width="1.2"/>
<line x1="15.5" y1="-7.0" x2="18.5" y2="7.0" stroke="#b8b8b8" stroke-width="1.2"/>
<line x1="18.9" y1="-7.0" x2="21.9" y2="7.0" stroke="#b5b5b5" stroke-width="1.2"/>
<line x1="22.3" y1="-7.0" x2="25.3" y2="7.0" stroke="#b2b2b2" stroke-width="1.2"/>
<line x1="25.7" y1="-7.0" x2="28.7" y2="7.0" stroke="#b0b0b0" stroke-width="1.2"/>
<line x1="29.1" y1="-7.0" x2="32.1" y2="7.0" stroke="#adadad" stroke-width="1.2"/>
<line x1="32.5" y1="-7.0" x2="35.5" y2="7.0" stroke="#ababab" stroke-width="1.2"/>
<line x1="35.9" y1="-7.0" x2="38.9" y2="7.0" stroke="#a8a8a8" stroke-width="1.2"/>
<line x1="39.3" y1="-7.0" x2="42.3" y2="7.0" stroke="#a6a6a6" stroke-width="1.2"/>
</g>
<g transform="translate(113.5,176.0) rotate(-158.55)" style="mix-blend-mode:lighten">
<line x1="5.3" y1="-7.0" x2="8.3" y2="7.0" stroke="#bfbfbf" stroke-width="1.2"/>
<line x1="8.7" y1="-7.0" x2="11.7" y2="7.0" stroke="#bdbdbd" stroke-width="1.2"/>
<line x1="12.1" y1="-7.0" x2="15.1" y2="7.0" stroke="#bababa" stroke-width="1.2"/>
<line x1="15.5" y1="-7.0" x2="18.5" y2="7.0" stroke="#b8b8b8" stroke-width="1.2"/>
<line x1="18.9" y1="-7.0" x2="21.9" y2="7.0" stroke="#b5b5b5" stroke-width="1.2"/>
<line x1="22.3" y1="-7.0" x2="25.3" y2="7.0" stroke="#b2b2b2" stroke-width="1.2"/>
<line x1="25.7" y1="-7.0" x2="28.7" y2="7.0" stroke="#b0b0b0" stroke-width="1.2"/>
<line x1="29.1" y1="-7.0" x2="32.1" y2="7.0" stroke="#adadad" stroke-width="1.2"/>
<line x1="32.5" y1="-7.0" x2="35.5" y2="7.0" stroke="#ababab" stroke-width="1.2"/>
<line x1="35.9" y1="-7.0" x2="38.9" y2="7.0" stroke="#a8a8a8" stroke-width="1.2"/>
<line x1="39.3" y1="-7.0" x2="42.3" y2="7.0" stroke="#a6a6a6" stroke-width="1.2"/>
</g>
<g transform="translate(113.5,176.0) rotate(21.45)" style="mix-blend-mode:lighten">
<line x1="5.3" y1="-7.0" x2="8.3" y2="7.0" stroke="#bfbfbf" stroke-width="1.2"/>
<line x1="8.7" y1="-7.0" x2="11.7" y2="7.0" stroke="#bdbdbd" stroke-width="1.2"/>
<line x1="12.1" y1="-7.0" x2="15.1" y2="7.0" stroke="#bababa" stroke-width="1.2"/>
<line x1="15.5" y1="-7.0" x2="18.5" y2="7.0" stroke="#b8b8b8" stroke-width="1.2"/>
<line x1="18.9" y1="-7.0" x2="21.9" y2="7.0" stroke="#b5b5b5" stroke-width="1.2"/>
<line x1="22.3" y1="-7.0" x2="25.3" y2="7.0" stroke="#b2b2b2" stroke-width="1.2"/>
<line x1="25.7" y1="-7.0" x2="28.7" y2="7.0" stroke="#b0b0b0" stroke-width="1.2"/>
<line x1="29.1" y1="-7.0" x2="32.1" y2="7.0" stroke="#adadad" stroke-width="1.2"/>
<line x1="32.5" y1="-7.0" x2="35.5" y2="7.0" stroke="#ababab" stroke-width="1.2"/>
<line x1="35.9" y1="-7.0" x2="38.9" y2="7.0" stroke="#a8a8a8" stroke-width="1.2"/>
<line x1="39.3" y1="-7.0" x2="42.3" y2="7.0" stroke="#a6a6a6" stroke-width="1.2"/>
</g>
</g></g>
<line x1="106" y1="126.4" x2="74.3" y2="201.2" stroke="#fff" stroke-width="1.2" opacity="0.9"/>
</g>
<rect x="62" y="124.5" width="104.30000000000001" height="105.0" fill="none" stroke="#1a1a1a" stroke-width="1.4"/>
<line x1="62" y1="135.4" x2="68" y2="135.4" stroke="#444" stroke-width="1"/>
<line x1="166.3" y1="135.4" x2="160.3" y2="135.4" stroke="#444" stroke-width="1"/>
<line x1="62" y1="177.0" x2="68" y2="177.0" stroke="#444" stroke-width="1"/>
<line x1="166.3" y1="177.0" x2="160.3" y2="177.0" stroke="#444" stroke-width="1"/>
<line x1="62" y1="218.8" x2="68" y2="218.8" stroke="#444" stroke-width="1"/>
<line x1="166.3" y1="218.8" x2="160.3" y2="218.8" stroke="#444" stroke-width="1"/>
<line x1="71.6" y1="229.5" x2="71.6" y2="223.5" stroke="#444" stroke-width="1"/>
<line x1="71.6" y1="124.5" x2="71.6" y2="130.5" stroke="#444" stroke-width="1"/>
<line x1="113.9" y1="229.5" x2="113.9" y2="223.5" stroke="#444" stroke-width="1"/>
<line x1="113.9" y1="124.5" x2="113.9" y2="130.5" stroke="#444" stroke-width="1"/>
<line x1="156.0" y1="229.5" x2="156.0" y2="223.5" stroke="#444" stroke-width="1"/>
<line x1="156.0" y1="124.5" x2="156.0" y2="130.5" stroke="#444" stroke-width="1"/>
<text x="70.4" y="140.7" font-size="14.2" text-anchor="start" fill="#111" textLength="18.8" lengthAdjust="spacingAndGlyphs" stroke="#111" stroke-width="0.3">014</text>
<text x="32.3" y="139.8" font-size="15" fill="#333" textLength="26.2" lengthAdjust="spacingAndGlyphs" >0.04</text>
<text x="51.5" y="182.7" font-size="15" fill="#333" textLength="7.8" lengthAdjust="spacingAndGlyphs" >0</text>
<text x="25.8" y="225.9" font-size="15" fill="#333" textLength="33.5" lengthAdjust="spacingAndGlyphs" >-0.04</text>
<text transform="translate(21.5,180.0) rotate(-90)" font-size="14.5" text-anchor="middle" fill="#222" stroke="#222" stroke-width="0.45">ΔQ<tspan font-size="11" dy="3">y</tspan><tspan dy="-3"> (nm</tspan><tspan font-size="10" dy="-5.5">−1</tspan><tspan dy="5.5">)</tspan></text>
<linearGradient id="cbg1" x1="0" y1="1" x2="0" y2="0"><stop offset="0" stop-color="#ffffff"/><stop offset="0.1" stop-color="#fce2c4"/><stop offset="0.2" stop-color="#f5a445"/><stop offset="0.36" stop-color="#ea6e18"/><stop offset="0.56" stop-color="#bf3e18"/><stop offset="0.76" stop-color="#5a1c10"/><stop offset="1" stop-color="#100404"/></linearGradient>
<rect x="175.8" y="124.5" width="6" height="105.0" fill="url(#cbg1)" stroke="#1a1a1a" stroke-width="1.4"/>
<line x1="181.8" y1="146.8" x2="179.3" y2="146.8" stroke="#333" stroke-width="0.8"/>
<text x="184" y="151.7" font-size="14" fill="#333"><tspan textLength="13" lengthAdjust="spacingAndGlyphs">10</tspan><tspan font-size="11" dx="0.8" dy="-5">4</tspan></text>
<line x1="181.8" y1="167.0" x2="179.3" y2="167.0" stroke="#333" stroke-width="0.8"/>
<text x="184" y="171.9" font-size="14" fill="#333"><tspan textLength="13" lengthAdjust="spacingAndGlyphs">10</tspan><tspan font-size="11" dx="0.8" dy="-5">3</tspan></text>
<line x1="181.8" y1="187.0" x2="179.3" y2="187.0" stroke="#333" stroke-width="0.8"/>
<text x="184" y="191.9" font-size="14" fill="#333"><tspan textLength="13" lengthAdjust="spacingAndGlyphs">10</tspan><tspan font-size="11" dx="0.8" dy="-5">2</tspan></text>
<line x1="181.8" y1="207.0" x2="179.3" y2="207.0" stroke="#333" stroke-width="0.8"/>
<text x="184" y="211.9" font-size="14" fill="#333">10</text>
<line x1="181.8" y1="226.5" x2="179.3" y2="226.5" stroke="#333" stroke-width="0.8"/>
<text x="184" y="231.4" font-size="14" fill="#333">1</text>
<clipPath id="cpa2"><rect x="62" y="234.5" width="104.30000000000001" height="105.0"/></clipPath>
<radialGradient id="gl2" gradientUnits="userSpaceOnUse" cx="113.5" cy="286.0" r="70"><stop offset="0" stop-color="#4c4c4c"/><stop offset="0.55" stop-color="#262626"/><stop offset="1" stop-color="#000"/></radialGradient>
<radialGradient id="gn2" gradientUnits="userSpaceOnUse" cx="113.5" cy="286.0" r="34"><stop offset="0" stop-color="#808080"/><stop offset="0.5" stop-color="#545454"/><stop offset="1" stop-color="#000"/></radialGradient>
<radialGradient id="co2" gradientUnits="userSpaceOnUse" cx="113.5" cy="286.0" r="18"><stop offset="0" stop-color="#fff"/><stop offset="0.15" stop-color="#ebebeb"/><stop offset="0.35" stop-color="#c2c2c2"/><stop offset="0.65" stop-color="#a3a3a3"/><stop offset="1" stop-color="#000"/></radialGradient>
<g clip-path="url(#cpa2)"><g filter="url(#dcm)">
<rect x="62" y="234.5" width="104.30000000000001" height="105.0" fill="#000"/>
<g filter="url(#bl2)">
<rect x="57" y="229.5" width="114.30000000000001" height="115.0" fill="url(#gl2)"/>
<circle cx="113.5" cy="286.0" r="34" fill="url(#gn2)" style="mix-blend-mode:lighten"/>
<linearGradient id="ag2_-91" x1="0" y1="0" x2="1" y2="0"><stop offset="0" stop-color="#a3a3a3"/><stop offset="0.4" stop-color="#8c8c8c"/><stop offset="1" stop-color="#6e6e6e"/></linearGradient>
<linearGradient id="ag2_-91b" x1="0" y1="0" x2="1" y2="0"><stop offset="0" stop-color="#cccccc"/><stop offset="0.3" stop-color="#b2b2b2"/><stop offset="0.65" stop-color="#999999"/><stop offset="1" stop-color="#808080"/></linearGradient>
<g transform="translate(113.5,286.0) rotate(-91.02)" style="mix-blend-mode:lighten"><rect x="0" y="-6.9" width="66.00892785976178" height="13.8" fill="url(#ag2_-91)"/></g>
<g transform="translate(113.5,286.0) rotate(-91.02)" style="mix-blend-mode:lighten"><rect x="0" y="-3.1" width="66.00892785976178" height="6.2" fill="url(#ag2_-91b)"/></g>
<linearGradient id="ag2_88" x1="0" y1="0" x2="1" y2="0"><stop offset="0" stop-color="#a3a3a3"/><stop offset="0.4" stop-color="#8c8c8c"/><stop offset="1" stop-color="#6e6e6e"/></linearGradient>
<linearGradient id="ag2_88b" x1="0" y1="0" x2="1" y2="0"><stop offset="0" stop-color="#cccccc"/><stop offset="0.3" stop-color="#b2b2b2"/><stop offset="0.65" stop-color="#999999"/><stop offset="1" stop-color="#808080"/></linearGradient>
<g transform="translate(113.5,286.0) rotate(88.98)" style="mix-blend-mode:lighten"><rect x="0" y="-6.9" width="66.00892785976178" height="13.8" fill="url(#ag2_88)"/></g>
<g transform="translate(113.5,286.0) rotate(88.98)" style="mix-blend-mode:lighten"><rect x="0" y="-3.1" width="66.00892785976178" height="6.2" fill="url(#ag2_88b)"/></g>
<linearGradient id="ag2_-25" x1="0" y1="0" x2="1" y2="0"><stop offset="0" stop-color="#a3a3a3"/><stop offset="0.4" stop-color="#8c8c8c"/><stop offset="1" stop-color="#6e6e6e"/></linearGradient>
<linearGradient id="ag2_-25b" x1="0" y1="0" x2="1" y2="0"><stop offset="0" stop-color="#cccccc"/><stop offset="0.3" stop-color="#b2b2b2"/><stop offset="0.65" stop-color="#999999"/><stop offset="1" stop-color="#808080"/></linearGradient>
<g transform="translate(113.5,286.0) rotate(-25.74)" style="mix-blend-mode:lighten"><rect x="0" y="-7.5" width="72.16912416947821" height="15.0" fill="url(#ag2_-25)"/></g>
<g transform="translate(113.5,286.0) rotate(-25.74)" style="mix-blend-mode:lighten"><rect x="0" y="-3.4" width="72.16912416947821" height="6.8" fill="url(#ag2_-25b)"/></g>
<linearGradient id="ag2_159" x1="0" y1="0" x2="1" y2="0"><stop offset="0" stop-color="#a3a3a3"/><stop offset="0.4" stop-color="#8c8c8c"/><stop offset="1" stop-color="#6e6e6e"/></linearGradient>
<linearGradient id="ag2_159b" x1="0" y1="0" x2="1" y2="0"><stop offset="0" stop-color="#cccccc"/><stop offset="0.3" stop-color="#b2b2b2"/><stop offset="0.65" stop-color="#999999"/><stop offset="1" stop-color="#808080"/></linearGradient>
<g transform="translate(113.5,286.0) rotate(159.44)" style="mix-blend-mode:lighten"><rect x="0" y="-7.5" width="69.80802621722272" height="15.0" fill="url(#ag2_159)"/></g>
<g transform="translate(113.5,286.0) rotate(159.44)" style="mix-blend-mode:lighten"><rect x="0" y="-3.4" width="69.80802621722272" height="6.8" fill="url(#ag2_159b)"/></g>
<linearGradient id="ag2_-149" x1="0" y1="0" x2="1" y2="0"><stop offset="0" stop-color="#a3a3a3"/><stop offset="0.4" stop-color="#8c8c8c"/><stop offset="1" stop-color="#6e6e6e"/></linearGradient>
<linearGradient id="ag2_-149b" x1="0" y1="0" x2="1" y2="0"><stop offset="0" stop-color="#cccccc"/><stop offset="0.3" stop-color="#b2b2b2"/><stop offset="0.65" stop-color="#999999"/><stop offset="1" stop-color="#808080"/></linearGradient>
<g transform="translate(113.5,286.0) rotate(-149.49)" style="mix-blend-mode:lighten"><rect x="0" y="-7.5" width="75.0" height="15.0" fill="url(#ag2_-149)"/></g>
<g transform="translate(113.5,286.0) rotate(-149.49)" style="mix-blend-mode:lighten"><rect x="0" y="-3.4" width="75.0" height="6.8" fill="url(#ag2_-149b)"/></g>
<linearGradient id="ag2_28" x1="0" y1="0" x2="1" y2="0"><stop offset="0" stop-color="#a3a3a3"/><stop offset="0.4" stop-color="#8c8c8c"/><stop offset="1" stop-color="#6e6e6e"/></linearGradient>
<linearGradient id="ag2_28b" x1="0" y1="0" x2="1" y2="0"><stop offset="0" stop-color="#cccccc"/><stop offset="0.3" stop-color="#b2b2b2"/><stop offset="0.65" stop-color="#999999"/><stop offset="1" stop-color="#808080"/></linearGradient>
<g transform="translate(113.5,286.0) rotate(28.97)" style="mix-blend-mode:lighten"><rect x="0" y="-7.5" width="74.00781202322104" height="15.0" fill="url(#ag2_28)"/></g>
<g transform="translate(113.5,286.0) rotate(28.97)" style="mix-blend-mode:lighten"><rect x="0" y="-3.4" width="74.00781202322104" height="6.8" fill="url(#ag2_28b)"/></g>
<circle cx="113.5" cy="286.0" r="18" fill="url(#co2)" style="mix-blend-mode:lighten"/>
</g>
<g filter="url(#bl07)">
<g transform="translate(113.5,286.0) rotate(-91.02)" style="mix-blend-mode:lighten">
<line x1="5.3" y1="-4.0" x2="8.3" y2="4.0" stroke="#bfbfbf" stroke-width="1.2"/>
<line x1="8.7" y1="-4.0" x2="11.7" y2="4.0" stroke="#bdbdbd" stroke-width="1.2"/>
<line x1="12.1" y1="-4.0" x2="15.1" y2="4.0" stroke="#bababa" stroke-width="1.2"/>
<line x1="15.5" y1="-4.0" x2="18.5" y2="4.0" stroke="#b8b8b8" stroke-width="1.2"/>
<line x1="18.9" y1="-4.0" x2="21.9" y2="4.0" stroke="#b5b5b5" stroke-width="1.2"/>
<line x1="22.3" y1="-4.0" x2="25.3" y2="4.0" stroke="#b2b2b2" stroke-width="1.2"/>
<line x1="25.7" y1="-4.0" x2="28.7" y2="4.0" stroke="#b0b0b0" stroke-width="1.2"/>
<line x1="29.1" y1="-4.0" x2="32.1" y2="4.0" stroke="#adadad" stroke-width="1.2"/>
<line x1="32.5" y1="-4.0" x2="35.5" y2="4.0" stroke="#ababab" stroke-width="1.2"/>
<line x1="35.9" y1="-4.0" x2="38.9" y2="4.0" stroke="#a8a8a8" stroke-width="1.2"/>
<line x1="39.3" y1="-4.0" x2="42.3" y2="4.0" stroke="#a6a6a6" stroke-width="1.2"/>
</g>
<g transform="translate(113.5,286.0) rotate(88.98)" style="mix-blend-mode:lighten">
<line x1="5.3" y1="-4.0" x2="8.3" y2="4.0" stroke="#bfbfbf" stroke-width="1.2"/>
<line x1="8.7" y1="-4.0" x2="11.7" y2="4.0" stroke="#bdbdbd" stroke-width="1.2"/>
<line x1="12.1" y1="-4.0" x2="15.1" y2="4.0" stroke="#bababa" stroke-width="1.2"/>
<line x1="15.5" y1="-4.0" x2="18.5" y2="4.0" stroke="#b8b8b8" stroke-width="1.2"/>
<line x1="18.9" y1="-4.0" x2="21.9" y2="4.0" stroke="#b5b5b5" stroke-width="1.2"/>
<line x1="22.3" y1="-4.0" x2="25.3" y2="4.0" stroke="#b2b2b2" stroke-width="1.2"/>
<line x1="25.7" y1="-4.0" x2="28.7" y2="4.0" stroke="#b0b0b0" stroke-width="1.2"/>
<line x1="29.1" y1="-4.0" x2="32.1" y2="4.0" stroke="#adadad" stroke-width="1.2"/>
<line x1="32.5" y1="-4.0" x2="35.5" y2="4.0" stroke="#ababab" stroke-width="1.2"/>
<line x1="35.9" y1="-4.0" x2="38.9" y2="4.0" stroke="#a8a8a8" stroke-width="1.2"/>
<line x1="39.3" y1="-4.0" x2="42.3" y2="4.0" stroke="#a6a6a6" stroke-width="1.2"/>
</g>
<g transform="translate(113.5,286.0) rotate(-25.74)" style="mix-blend-mode:lighten">
<line x1="5.3" y1="-4.4" x2="8.3" y2="4.4" stroke="#bfbfbf" stroke-width="1.2"/>
<line x1="8.7" y1="-4.4" x2="11.7" y2="4.4" stroke="#bdbdbd" stroke-width="1.2"/>
<line x1="12.1" y1="-4.4" x2="15.1" y2="4.4" stroke="#bababa" stroke-width="1.2"/>
<line x1="15.5" y1="-4.4" x2="18.5" y2="4.4" stroke="#b8b8b8" stroke-width="1.2"/>
<line x1="18.9" y1="-4.4" x2="21.9" y2="4.4" stroke="#b5b5b5" stroke-width="1.2"/>
<line x1="22.3" y1="-4.4" x2="25.3" y2="4.4" stroke="#b2b2b2" stroke-width="1.2"/>
<line x1="25.7" y1="-4.4" x2="28.7" y2="4.4" stroke="#b0b0b0" stroke-width="1.2"/>
<line x1="29.1" y1="-4.4" x2="32.1" y2="4.4" stroke="#adadad" stroke-width="1.2"/>
<line x1="32.5" y1="-4.4" x2="35.5" y2="4.4" stroke="#ababab" stroke-width="1.2"/>
<line x1="35.9" y1="-4.4" x2="38.9" y2="4.4" stroke="#a8a8a8" stroke-width="1.2"/>
<line x1="39.3" y1="-4.4" x2="42.3" y2="4.4" stroke="#a6a6a6" stroke-width="1.2"/>
</g>
<g transform="translate(113.5,286.0) rotate(159.44)" style="mix-blend-mode:lighten">
<line x1="5.3" y1="-4.4" x2="8.3" y2="4.4" stroke="#bfbfbf" stroke-width="1.2"/>
<line x1="8.7" y1="-4.4" x2="11.7" y2="4.4" stroke="#bdbdbd" stroke-width="1.2"/>
<line x1="12.1" y1="-4.4" x2="15.1" y2="4.4" stroke="#bababa" stroke-width="1.2"/>
<line x1="15.5" y1="-4.4" x2="18.5" y2="4.4" stroke="#b8b8b8" stroke-width="1.2"/>
<line x1="18.9" y1="-4.4" x2="21.9" y2="4.4" stroke="#b5b5b5" stroke-width="1.2"/>
<line x1="22.3" y1="-4.4" x2="25.3" y2="4.4" stroke="#b2b2b2" stroke-width="1.2"/>
<line x1="25.7" y1="-4.4" x2="28.7" y2="4.4" stroke="#b0b0b0" stroke-width="1.2"/>
<line x1="29.1" y1="-4.4" x2="32.1" y2="4.4" stroke="#adadad" stroke-width="1.2"/>
<line x1="32.5" y1="-4.4" x2="35.5" y2="4.4" stroke="#ababab" stroke-width="1.2"/>
<line x1="35.9" y1="-4.4" x2="38.9" y2="4.4" stroke="#a8a8a8" stroke-width="1.2"/>
<line x1="39.3" y1="-4.4" x2="42.3" y2="4.4" stroke="#a6a6a6" stroke-width="1.2"/>
</g>
<g transform="translate(113.5,286.0) rotate(-149.49)" style="mix-blend-mode:lighten">
<line x1="5.3" y1="-4.4" x2="8.3" y2="4.4" stroke="#bfbfbf" stroke-width="1.2"/>
<line x1="8.7" y1="-4.4" x2="11.7" y2="4.4" stroke="#bdbdbd" stroke-width="1.2"/>
<line x1="12.1" y1="-4.4" x2="15.1" y2="4.4" stroke="#bababa" stroke-width="1.2"/>
<line x1="15.5" y1="-4.4" x2="18.5" y2="4.4" stroke="#b8b8b8" stroke-width="1.2"/>
<line x1="18.9" y1="-4.4" x2="21.9" y2="4.4" stroke="#b5b5b5" stroke-width="1.2"/>
<line x1="22.3" y1="-4.4" x2="25.3" y2="4.4" stroke="#b2b2b2" stroke-width="1.2"/>
<line x1="25.7" y1="-4.4" x2="28.7" y2="4.4" stroke="#b0b0b0" stroke-width="1.2"/>
<line x1="29.1" y1="-4.4" x2="32.1" y2="4.4" stroke="#adadad" stroke-width="1.2"/>
<line x1="32.5" y1="-4.4" x2="35.5" y2="4.4" stroke="#ababab" stroke-width="1.2"/>
<line x1="35.9" y1="-4.4" x2="38.9" y2="4.4" stroke="#a8a8a8" stroke-width="1.2"/>
<line x1="39.3" y1="-4.4" x2="42.3" y2="4.4" stroke="#a6a6a6" stroke-width="1.2"/>
</g>
<g transform="translate(113.5,286.0) rotate(28.97)" style="mix-blend-mode:lighten">
<line x1="5.3" y1="-4.4" x2="8.3" y2="4.4" stroke="#bfbfbf" stroke-width="1.2"/>
<line x1="8.7" y1="-4.4" x2="11.7" y2="4.4" stroke="#bdbdbd" stroke-width="1.2"/>
<line x1="12.1" y1="-4.4" x2="15.1" y2="4.4" stroke="#bababa" stroke-width="1.2"/>
<line x1="15.5" y1="-4.4" x2="18.5" y2="4.4" stroke="#b8b8b8" stroke-width="1.2"/>
<line x1="18.9" y1="-4.4" x2="21.9" y2="4.4" stroke="#b5b5b5" stroke-width="1.2"/>
<line x1="22.3" y1="-4.4" x2="25.3" y2="4.4" stroke="#b2b2b2" stroke-width="1.2"/>
<line x1="25.7" y1="-4.4" x2="28.7" y2="4.4" stroke="#b0b0b0" stroke-width="1.2"/>
<line x1="29.1" y1="-4.4" x2="32.1" y2="4.4" stroke="#adadad" stroke-width="1.2"/>
<line x1="32.5" y1="-4.4" x2="35.5" y2="4.4" stroke="#ababab" stroke-width="1.2"/>
<line x1="35.9" y1="-4.4" x2="38.9" y2="4.4" stroke="#a8a8a8" stroke-width="1.2"/>
<line x1="39.3" y1="-4.4" x2="42.3" y2="4.4" stroke="#a6a6a6" stroke-width="1.2"/>
</g>
</g></g>
<line x1="66.6" y1="261.7" x2="122.7" y2="255.1" stroke="#fff" stroke-width="1.2" opacity="0.9"/>
</g>
<rect x="62" y="234.5" width="104.30000000000001" height="105.0" fill="none" stroke="#1a1a1a" stroke-width="1.4"/>
<line x1="62" y1="245.4" x2="68" y2="245.4" stroke="#444" stroke-width="1"/>
<line x1="166.3" y1="245.4" x2="160.3" y2="245.4" stroke="#444" stroke-width="1"/>
<line x1="62" y1="287.0" x2="68" y2="287.0" stroke="#444" stroke-width="1"/>
<line x1="166.3" y1="287.0" x2="160.3" y2="287.0" stroke="#444" stroke-width="1"/>
<line x1="62" y1="328.8" x2="68" y2="328.8" stroke="#444" stroke-width="1"/>
<line x1="166.3" y1="328.8" x2="160.3" y2="328.8" stroke="#444" stroke-width="1"/>
<line x1="71.6" y1="339.5" x2="71.6" y2="333.5" stroke="#444" stroke-width="1"/>
<line x1="71.6" y1="234.5" x2="71.6" y2="240.5" stroke="#444" stroke-width="1"/>
<line x1="113.9" y1="339.5" x2="113.9" y2="333.5" stroke="#444" stroke-width="1"/>
<line x1="113.9" y1="234.5" x2="113.9" y2="240.5" stroke="#444" stroke-width="1"/>
<line x1="156.0" y1="339.5" x2="156.0" y2="333.5" stroke="#444" stroke-width="1"/>
<line x1="156.0" y1="234.5" x2="156.0" y2="240.5" stroke="#444" stroke-width="1"/>
<text x="70.4" y="250.7" font-size="14.2" text-anchor="start" fill="#111" textLength="18.8" lengthAdjust="spacingAndGlyphs" stroke="#111" stroke-width="0.3">104</text>
<text x="32.3" y="249.8" font-size="15" fill="#333" textLength="26.2" lengthAdjust="spacingAndGlyphs" >0.04</text>
<text x="51.5" y="292.7" font-size="15" fill="#333" textLength="7.8" lengthAdjust="spacingAndGlyphs" >0</text>
<text x="25.8" y="335.9" font-size="15" fill="#333" textLength="33.5" lengthAdjust="spacingAndGlyphs" >-0.04</text>
<text transform="translate(21.5,290.0) rotate(-90)" font-size="14.5" text-anchor="middle" fill="#222" stroke="#222" stroke-width="0.45">ΔQ<tspan font-size="11" dy="3">y</tspan><tspan dy="-3"> (nm</tspan><tspan font-size="10" dy="-5.5">−1</tspan><tspan dy="5.5">)</tspan></text>
<linearGradient id="cbg2" x1="0" y1="1" x2="0" y2="0"><stop offset="0" stop-color="#ffffff"/><stop offset="0.1" stop-color="#fce2c4"/><stop offset="0.2" stop-color="#f5a445"/><stop offset="0.36" stop-color="#ea6e18"/><stop offset="0.56" stop-color="#bf3e18"/><stop offset="0.76" stop-color="#5a1c10"/><stop offset="1" stop-color="#100404"/></linearGradient>
<rect x="175.8" y="234.5" width="6" height="105.0" fill="url(#cbg2)" stroke="#1a1a1a" stroke-width="1.4"/>
<line x1="181.8" y1="249.0" x2="179.3" y2="249.0" stroke="#333" stroke-width="0.8"/>
<text x="184" y="253.9" font-size="14" fill="#333"><tspan textLength="13" lengthAdjust="spacingAndGlyphs">10</tspan><tspan font-size="11" dx="0.8" dy="-5">4</tspan></text>
<line x1="181.8" y1="270.8" x2="179.3" y2="270.8" stroke="#333" stroke-width="0.8"/>
<text x="184" y="275.7" font-size="14" fill="#333"><tspan textLength="13" lengthAdjust="spacingAndGlyphs">10</tspan><tspan font-size="11" dx="0.8" dy="-5">3</tspan></text>
<line x1="181.8" y1="293.5" x2="179.3" y2="293.5" stroke="#333" stroke-width="0.8"/>
<text x="184" y="298.4" font-size="14" fill="#333"><tspan textLength="13" lengthAdjust="spacingAndGlyphs">10</tspan><tspan font-size="11" dx="0.8" dy="-5">2</tspan></text>
<line x1="181.8" y1="315.2" x2="179.3" y2="315.2" stroke="#333" stroke-width="0.8"/>
<text x="184" y="320.1" font-size="14" fill="#333">10</text>
<line x1="181.8" y1="337.0" x2="179.3" y2="337.0" stroke="#333" stroke-width="0.8"/>
<text x="184" y="341.9" font-size="14" fill="#333">1</text>
<clipPath id="cpa3"><rect x="62" y="344.5" width="104.30000000000001" height="105.0"/></clipPath>
<radialGradient id="gl3" gradientUnits="userSpaceOnUse" cx="112.5" cy="396.0" r="66"><stop offset="0" stop-color="#474747"/><stop offset="0.55" stop-color="#242424"/><stop offset="1" stop-color="#000"/></radialGradient>
<radialGradient id="gn3" gradientUnits="userSpaceOnUse" cx="112.5" cy="396.0" r="34"><stop offset="0" stop-color="#808080"/><stop offset="0.5" stop-color="#545454"/><stop offset="1" stop-color="#000"/></radialGradient>
<radialGradient id="co3" gradientUnits="userSpaceOnUse" cx="112.5" cy="396.0" r="15"><stop offset="0" stop-color="#fff"/><stop offset="0.15" stop-color="#ebebeb"/><stop offset="0.35" stop-color="#c2c2c2"/><stop offset="0.65" stop-color="#a3a3a3"/><stop offset="1" stop-color="#000"/></radialGradient>
<g clip-path="url(#cpa3)"><g filter="url(#dcm)">
<rect x="62" y="344.5" width="104.30000000000001" height="105.0" fill="#000"/>
<g filter="url(#bl2)">
<rect x="57" y="339.5" width="114.30000000000001" height="115.0" fill="url(#gl3)"/>
<circle cx="112.5" cy="396.0" r="34" fill="url(#gn3)" style="mix-blend-mode:lighten"/>
<linearGradient id="ag3_-97" x1="0" y1="0" x2="1" y2="0"><stop offset="0" stop-color="#a3a3a3"/><stop offset="0.4" stop-color="#8c8c8c"/><stop offset="1" stop-color="#6e6e6e"/></linearGradient>
<linearGradient id="ag3_-97b" x1="0" y1="0" x2="1" y2="0"><stop offset="0" stop-color="#cccccc"/><stop offset="0.3" stop-color="#b2b2b2"/><stop offset="0.65" stop-color="#999999"/><stop offset="1" stop-color="#808080"/></linearGradient>
<g transform="translate(112.5,396.0) rotate(-97.13)" style="mix-blend-mode:lighten"><rect x="0" y="-7.5" width="66.43580423808984" height="15.0" fill="url(#ag3_-97)"/></g>
<g transform="translate(112.5,396.0) rotate(-97.13)" style="mix-blend-mode:lighten"><rect x="0" y="-3.4" width="66.43580423808984" height="6.8" fill="url(#ag3_-97b)"/></g>
<linearGradient id="ag3_84" x1="0" y1="0" x2="1" y2="0"><stop offset="0" stop-color="#a3a3a3"/><stop offset="0.4" stop-color="#8c8c8c"/><stop offset="1" stop-color="#6e6e6e"/></linearGradient>
<linearGradient id="ag3_84b" x1="0" y1="0" x2="1" y2="0"><stop offset="0" stop-color="#cccccc"/><stop offset="0.3" stop-color="#b2b2b2"/><stop offset="0.65" stop-color="#999999"/><stop offset="1" stop-color="#808080"/></linearGradient>
<g transform="translate(112.5,396.0) rotate(84.90)" style="mix-blend-mode:lighten"><rect x="0" y="-7.5" width="66.22277118748238" height="15.0" fill="url(#ag3_84)"/></g>
<g transform="translate(112.5,396.0) rotate(84.90)" style="mix-blend-mode:lighten"><rect x="0" y="-3.4" width="66.22277118748238" height="6.8" fill="url(#ag3_84b)"/></g>
<linearGradient id="ag3_-22" x1="0" y1="0" x2="1" y2="0"><stop offset="0" stop-color="#a3a3a3"/><stop offset="0.4" stop-color="#8c8c8c"/><stop offset="1" stop-color="#6e6e6e"/></linearGradient>
<linearGradient id="ag3_-22b" x1="0" y1="0" x2="1" y2="0"><stop offset="0" stop-color="#cccccc"/><stop offset="0.3" stop-color="#b2b2b2"/><stop offset="0.65" stop-color="#999999"/><stop offset="1" stop-color="#808080"/></linearGradient>
<g transform="translate(112.5,396.0) rotate(-22.25)" style="mix-blend-mode:lighten"><rect x="0" y="-7.5" width="57.53945729601885" height="15.0" fill="url(#ag3_-22)"/></g>
<g transform="translate(112.5,396.0) rotate(-22.25)" style="mix-blend-mode:lighten"><rect x="0" y="-3.4" width="57.53945729601885" height="6.8" fill="url(#ag3_-22b)"/></g>
<linearGradient id="ag3_161" x1="0" y1="0" x2="1" y2="0"><stop offset="0" stop-color="#a3a3a3"/><stop offset="0.4" stop-color="#8c8c8c"/><stop offset="1" stop-color="#6e6e6e"/></linearGradient>
<linearGradient id="ag3_161b" x1="0" y1="0" x2="1" y2="0"><stop offset="0" stop-color="#cccccc"/><stop offset="0.3" stop-color="#b2b2b2"/><stop offset="0.65" stop-color="#999999"/><stop offset="1" stop-color="#808080"/></linearGradient>
<g transform="translate(112.5,396.0) rotate(161.57)" style="mix-blend-mode:lighten"><rect x="0" y="-7.5" width="60.59644256269407" height="15.0" fill="url(#ag3_161)"/></g>
<g transform="translate(112.5,396.0) rotate(161.57)" style="mix-blend-mode:lighten"><rect x="0" y="-3.4" width="60.59644256269407" height="6.8" fill="url(#ag3_161b)"/></g>
<linearGradient id="ag3_-148" x1="0" y1="0" x2="1" y2="0"><stop offset="0" stop-color="#a3a3a3"/><stop offset="0.4" stop-color="#8c8c8c"/><stop offset="1" stop-color="#6e6e6e"/></linearGradient>
<linearGradient id="ag3_-148b" x1="0" y1="0" x2="1" y2="0"><stop offset="0" stop-color="#cccccc"/><stop offset="0.3" stop-color="#b2b2b2"/><stop offset="0.65" stop-color="#999999"/><stop offset="1" stop-color="#808080"/></linearGradient>
<g transform="translate(112.5,396.0) rotate(-148.74)" style="mix-blend-mode:lighten"><rect x="0" y="-7.5" width="75.5133574166368" height="15.0" fill="url(#ag3_-148)"/></g>
<g transform="translate(112.5,396.0) rotate(-148.74)" style="mix-blend-mode:lighten"><rect x="0" y="-3.4" width="75.5133574166368" height="6.8" fill="url(#ag3_-148b)"/></g>
<linearGradient id="ag3_32" x1="0" y1="0" x2="1" y2="0"><stop offset="0" stop-color="#a3a3a3"/><stop offset="0.4" stop-color="#8c8c8c"/><stop offset="1" stop-color="#6e6e6e"/></linearGradient>
<linearGradient id="ag3_32b" x1="0" y1="0" x2="1" y2="0"><stop offset="0" stop-color="#cccccc"/><stop offset="0.3" stop-color="#b2b2b2"/><stop offset="0.65" stop-color="#999999"/><stop offset="1" stop-color="#808080"/></linearGradient>
<g transform="translate(112.5,396.0) rotate(32.01)" style="mix-blend-mode:lighten"><rect x="0" y="-7.5" width="76.03786792439622" height="15.0" fill="url(#ag3_32)"/></g>
<g transform="translate(112.5,396.0) rotate(32.01)" style="mix-blend-mode:lighten"><rect x="0" y="-3.4" width="76.03786792439622" height="6.8" fill="url(#ag3_32b)"/></g>
<circle cx="112.5" cy="396.0" r="15" fill="url(#co3)" style="mix-blend-mode:lighten"/>
<polygon points="100.3,340 170,340 170,390.2" fill="#000"/>
<polygon points="58,409.5 58,455 125,455" fill="#000"/>
</g>
<g filter="url(#bl07)">
<g transform="translate(112.5,396.0) rotate(-97.13)" style="mix-blend-mode:lighten">
<line x1="5.3" y1="-4.4" x2="8.3" y2="4.4" stroke="#bfbfbf" stroke-width="1.2"/>
<line x1="8.7" y1="-4.4" x2="11.7" y2="4.4" stroke="#bdbdbd" stroke-width="1.2"/>
<line x1="12.1" y1="-4.4" x2="15.1" y2="4.4" stroke="#bababa" stroke-width="1.2"/>
<line x1="15.5" y1="-4.4" x2="18.5" y2="4.4" stroke="#b8b8b8" stroke-width="1.2"/>
<line x1="18.9" y1="-4.4" x2="21.9" y2="4.4" stroke="#b5b5b5" stroke-width="1.2"/>
<line x1="22.3" y1="-4.4" x2="25.3" y2="4.4" stroke="#b2b2b2" stroke-width="1.2"/>
<line x1="25.7" y1="-4.4" x2="28.7" y2="4.4" stroke="#b0b0b0" stroke-width="1.2"/>
<line x1="29.1" y1="-4.4" x2="32.1" y2="4.4" stroke="#adadad" stroke-width="1.2"/>
<line x1="32.5" y1="-4.4" x2="35.5" y2="4.4" stroke="#ababab" stroke-width="1.2"/>
<line x1="35.9" y1="-4.4" x2="38.9" y2="4.4" stroke="#a8a8a8" stroke-width="1.2"/>
<line x1="39.3" y1="-4.4" x2="42.3" y2="4.4" stroke="#a6a6a6" stroke-width="1.2"/>
</g>
<g transform="translate(112.5,396.0) rotate(84.90)" style="mix-blend-mode:lighten">
<line x1="5.3" y1="-4.4" x2="8.3" y2="4.4" stroke="#bfbfbf" stroke-width="1.2"/>
<line x1="8.7" y1="-4.4" x2="11.7" y2="4.4" stroke="#bdbdbd" stroke-width="1.2"/>
<line x1="12.1" y1="-4.4" x2="15.1" y2="4.4" stroke="#bababa" stroke-width="1.2"/>
<line x1="15.5" y1="-4.4" x2="18.5" y2="4.4" stroke="#b8b8b8" stroke-width="1.2"/>
<line x1="18.9" y1="-4.4" x2="21.9" y2="4.4" stroke="#b5b5b5" stroke-width="1.2"/>
<line x1="22.3" y1="-4.4" x2="25.3" y2="4.4" stroke="#b2b2b2" stroke-width="1.2"/>
<line x1="25.7" y1="-4.4" x2="28.7" y2="4.4" stroke="#b0b0b0" stroke-width="1.2"/>
<line x1="29.1" y1="-4.4" x2="32.1" y2="4.4" stroke="#adadad" stroke-width="1.2"/>
<line x1="32.5" y1="-4.4" x2="35.5" y2="4.4" stroke="#ababab" stroke-width="1.2"/>
<line x1="35.9" y1="-4.4" x2="38.9" y2="4.4" stroke="#a8a8a8" stroke-width="1.2"/>
<line x1="39.3" y1="-4.4" x2="42.3" y2="4.4" stroke="#a6a6a6" stroke-width="1.2"/>
</g>
<g transform="translate(112.5,396.0) rotate(-22.25)" style="mix-blend-mode:lighten">
<line x1="5.3" y1="-4.4" x2="8.3" y2="4.4" stroke="#bfbfbf" stroke-width="1.2"/>
<line x1="8.7" y1="-4.4" x2="11.7" y2="4.4" stroke="#bdbdbd" stroke-width="1.2"/>
<line x1="12.1" y1="-4.4" x2="15.1" y2="4.4" stroke="#bababa" stroke-width="1.2"/>
<line x1="15.5" y1="-4.4" x2="18.5" y2="4.4" stroke="#b8b8b8" stroke-width="1.2"/>
<line x1="18.9" y1="-4.4" x2="21.9" y2="4.4" stroke="#b5b5b5" stroke-width="1.2"/>
<line x1="22.3" y1="-4.4" x2="25.3" y2="4.4" stroke="#b2b2b2" stroke-width="1.2"/>
<line x1="25.7" y1="-4.4" x2="28.7" y2="4.4" stroke="#b0b0b0" stroke-width="1.2"/>
<line x1="29.1" y1="-4.4" x2="32.1" y2="4.4" stroke="#adadad" stroke-width="1.2"/>
<line x1="32.5" y1="-4.4" x2="35.5" y2="4.4" stroke="#ababab" stroke-width="1.2"/>
<line x1="35.9" y1="-4.4" x2="38.9" y2="4.4" stroke="#a8a8a8" stroke-width="1.2"/>
<line x1="39.3" y1="-4.4" x2="42.3" y2="4.4" stroke="#a6a6a6" stroke-width="1.2"/>
</g>
<g transform="translate(112.5,396.0) rotate(161.57)" style="mix-blend-mode:lighten">
<line x1="5.3" y1="-4.4" x2="8.3" y2="4.4" stroke="#bfbfbf" stroke-width="1.2"/>
<line x1="8.7" y1="-4.4" x2="11.7" y2="4.4" stroke="#bdbdbd" stroke-width="1.2"/>
<line x1="12.1" y1="-4.4" x2="15.1" y2="4.4" stroke="#bababa" stroke-width="1.2"/>
<line x1="15.5" y1="-4.4" x2="18.5" y2="4.4" stroke="#b8b8b8" stroke-width="1.2"/>
<line x1="18.9" y1="-4.4" x2="21.9" y2="4.4" stroke="#b5b5b5" stroke-width="1.2"/>
<line x1="22.3" y1="-4.4" x2="25.3" y2="4.4" stroke="#b2b2b2" stroke-width="1.2"/>
<line x1="25.7" y1="-4.4" x2="28.7" y2="4.4" stroke="#b0b0b0" stroke-width="1.2"/>
<line x1="29.1" y1="-4.4" x2="32.1" y2="4.4" stroke="#adadad" stroke-width="1.2"/>
<line x1="32.5" y1="-4.4" x2="35.5" y2="4.4" stroke="#ababab" stroke-width="1.2"/>
<line x1="35.9" y1="-4.4" x2="38.9" y2="4.4" stroke="#a8a8a8" stroke-width="1.2"/>
<line x1="39.3" y1="-4.4" x2="42.3" y2="4.4" stroke="#a6a6a6" stroke-width="1.2"/>
</g>
<g transform="translate(112.5,396.0) rotate(-148.74)" style="mix-blend-mode:lighten">
<line x1="5.3" y1="-4.4" x2="8.3" y2="4.4" stroke="#bfbfbf" stroke-width="1.2"/>
<line x1="8.7" y1="-4.4" x2="11.7" y2="4.4" stroke="#bdbdbd" stroke-width="1.2"/>
<line x1="12.1" y1="-4.4" x2="15.1" y2="4.4" stroke="#bababa" stroke-width="1.2"/>
<line x1="15.5" y1="-4.4" x2="18.5" y2="4.4" stroke="#b8b8b8" stroke-width="1.2"/>
<line x1="18.9" y1="-4.4" x2="21.9" y2="4.4" stroke="#b5b5b5" stroke-width="1.2"/>
<line x1="22.3" y1="-4.4" x2="25.3" y2="4.4" stroke="#b2b2b2" stroke-width="1.2"/>
<line x1="25.7" y1="-4.4" x2="28.7" y2="4.4" stroke="#b0b0b0" stroke-width="1.2"/>
<line x1="29.1" y1="-4.4" x2="32.1" y2="4.4" stroke="#adadad" stroke-width="1.2"/>
<line x1="32.5" y1="-4.4" x2="35.5" y2="4.4" stroke="#ababab" stroke-width="1.2"/>
<line x1="35.9" y1="-4.4" x2="38.9" y2="4.4" stroke="#a8a8a8" stroke-width="1.2"/>
<line x1="39.3" y1="-4.4" x2="42.3" y2="4.4" stroke="#a6a6a6" stroke-width="1.2"/>
</g>
<g transform="translate(112.5,396.0) rotate(32.01)" style="mix-blend-mode:lighten">
<line x1="5.3" y1="-4.4" x2="8.3" y2="4.4" stroke="#bfbfbf" stroke-width="1.2"/>
<line x1="8.7" y1="-4.4" x2="11.7" y2="4.4" stroke="#bdbdbd" stroke-width="1.2"/>
<line x1="12.1" y1="-4.4" x2="15.1" y2="4.4" stroke="#bababa" stroke-width="1.2"/>
<line x1="15.5" y1="-4.4" x2="18.5" y2="4.4" stroke="#b8b8b8" stroke-width="1.2"/>
<line x1="18.9" y1="-4.4" x2="21.9" y2="4.4" stroke="#b5b5b5" stroke-width="1.2"/>
<line x1="22.3" y1="-4.4" x2="25.3" y2="4.4" stroke="#b2b2b2" stroke-width="1.2"/>
<line x1="25.7" y1="-4.4" x2="28.7" y2="4.4" stroke="#b0b0b0" stroke-width="1.2"/>
<line x1="29.1" y1="-4.4" x2="32.1" y2="4.4" stroke="#adadad" stroke-width="1.2"/>
<line x1="32.5" y1="-4.4" x2="35.5" y2="4.4" stroke="#ababab" stroke-width="1.2"/>
<line x1="35.9" y1="-4.4" x2="38.9" y2="4.4" stroke="#a8a8a8" stroke-width="1.2"/>
<line x1="39.3" y1="-4.4" x2="42.3" y2="4.4" stroke="#a6a6a6" stroke-width="1.2"/>
</g>
</g></g>
<line x1="123.8" y1="360.7" x2="68.8" y2="413.5" stroke="#fff" stroke-width="1.2" opacity="0.9"/>
</g>
<rect x="62" y="344.5" width="104.30000000000001" height="105.0" fill="none" stroke="#1a1a1a" stroke-width="1.4"/>
<line x1="62" y1="355.4" x2="68" y2="355.4" stroke="#444" stroke-width="1"/>
<line x1="166.3" y1="355.4" x2="160.3" y2="355.4" stroke="#444" stroke-width="1"/>
<line x1="62" y1="397.0" x2="68" y2="397.0" stroke="#444" stroke-width="1"/>
<line x1="166.3" y1="397.0" x2="160.3" y2="397.0" stroke="#444" stroke-width="1"/>
<line x1="62" y1="438.8" x2="68" y2="438.8" stroke="#444" stroke-width="1"/>
<line x1="166.3" y1="438.8" x2="160.3" y2="438.8" stroke="#444" stroke-width="1"/>
<line x1="71.6" y1="449.5" x2="71.6" y2="443.5" stroke="#444" stroke-width="1"/>
<line x1="71.6" y1="344.5" x2="71.6" y2="350.5" stroke="#444" stroke-width="1"/>
<line x1="113.9" y1="449.5" x2="113.9" y2="443.5" stroke="#444" stroke-width="1"/>
<line x1="113.9" y1="344.5" x2="113.9" y2="350.5" stroke="#444" stroke-width="1"/>
<line x1="156.0" y1="449.5" x2="156.0" y2="443.5" stroke="#444" stroke-width="1"/>
<line x1="156.0" y1="344.5" x2="156.0" y2="350.5" stroke="#444" stroke-width="1"/>
<text x="70.4" y="360.7" font-size="14.2" text-anchor="start" fill="#111" textLength="18.8" lengthAdjust="spacingAndGlyphs" stroke="#111" stroke-width="0.3">112</text>
<text x="32.3" y="359.8" font-size="15" fill="#333" textLength="26.2" lengthAdjust="spacingAndGlyphs" >0.04</text>
<text x="51.5" y="402.7" font-size="15" fill="#333" textLength="7.8" lengthAdjust="spacingAndGlyphs" >0</text>
<text x="25.8" y="445.9" font-size="15" fill="#333" textLength="33.5" lengthAdjust="spacingAndGlyphs" >-0.04</text>
<text transform="translate(21.5,400.0) rotate(-90)" font-size="14.5" text-anchor="middle" fill="#222" stroke="#222" stroke-width="0.45">ΔQ<tspan font-size="11" dy="3">y</tspan><tspan dy="-3"> (nm</tspan><tspan font-size="10" dy="-5.5">−1</tspan><tspan dy="5.5">)</tspan></text>
<linearGradient id="cbg3" x1="0" y1="1" x2="0" y2="0"><stop offset="0" stop-color="#ffffff"/><stop offset="0.1" stop-color="#fce2c4"/><stop offset="0.2" stop-color="#f5a445"/><stop offset="0.36" stop-color="#ea6e18"/><stop offset="0.56" stop-color="#bf3e18"/><stop offset="0.76" stop-color="#5a1c10"/><stop offset="1" stop-color="#100404"/></linearGradient>
<rect x="175.8" y="344.5" width="6" height="105.0" fill="url(#cbg3)" stroke="#1a1a1a" stroke-width="1.4"/>
<line x1="181.8" y1="353.6" x2="179.3" y2="353.6" stroke="#333" stroke-width="0.8"/>
<text x="184" y="358.5" font-size="14" fill="#333"><tspan textLength="13" lengthAdjust="spacingAndGlyphs">10</tspan><tspan font-size="11" dx="0.8" dy="-5">5</tspan></text>
<line x1="181.8" y1="373.6" x2="179.3" y2="373.6" stroke="#333" stroke-width="0.8"/>
<text x="184" y="378.5" font-size="14" fill="#333"><tspan textLength="13" lengthAdjust="spacingAndGlyphs">10</tspan><tspan font-size="11" dx="0.8" dy="-5">4</tspan></text>
<line x1="181.8" y1="392.0" x2="179.3" y2="392.0" stroke="#333" stroke-width="0.8"/>
<text x="184" y="396.9" font-size="14" fill="#333"><tspan textLength="13" lengthAdjust="spacingAndGlyphs">10</tspan><tspan font-size="11" dx="0.8" dy="-5">3</tspan></text>
<line x1="181.8" y1="411.0" x2="179.3" y2="411.0" stroke="#333" stroke-width="0.8"/>
<text x="184" y="415.9" font-size="14" fill="#333"><tspan textLength="13" lengthAdjust="spacingAndGlyphs">10</tspan><tspan font-size="11" dx="0.8" dy="-5">2</tspan></text>
<line x1="181.8" y1="429.5" x2="179.3" y2="429.5" stroke="#333" stroke-width="0.8"/>
<text x="184" y="434.4" font-size="14" fill="#333">10</text>
<line x1="181.8" y1="448.0" x2="179.3" y2="448.0" stroke="#333" stroke-width="0.8"/>
<text x="184" y="452.9" font-size="14" fill="#333">1</text>
<clipPath id="cpa4"><rect x="62" y="454.5" width="104.30000000000001" height="105.0"/></clipPath>
<radialGradient id="gl4" gradientUnits="userSpaceOnUse" cx="113.5" cy="506.0" r="75"><stop offset="0" stop-color="#5c5c5c"/><stop offset="0.55" stop-color="#2e2e2e"/><stop offset="1" stop-color="#000"/></radialGradient>
<radialGradient id="gn4" gradientUnits="userSpaceOnUse" cx="113.5" cy="506.0" r="34"><stop offset="0" stop-color="#808080"/><stop offset="0.5" stop-color="#545454"/><stop offset="1" stop-color="#000"/></radialGradient>
<radialGradient id="co4" gradientUnits="userSpaceOnUse" cx="113.5" cy="506.0" r="24"><stop offset="0" stop-color="#fff"/><stop offset="0.15" stop-color="#ebebeb"/><stop offset="0.35" stop-color="#c2c2c2"/><stop offset="0.65" stop-color="#a3a3a3"/><stop offset="1" stop-color="#000"/></radialGradient>
<g clip-path="url(#cpa4)"><g filter="url(#dcm)">
<rect x="62" y="454.5" width="104.30000000000001" height="105.0" fill="#000"/>
<g filter="url(#bl2)">
<rect x="57" y="449.5" width="114.30000000000001" height="115.0" fill="url(#gl4)"/>
<circle cx="113.5" cy="506.0" r="34" fill="url(#gn4)" style="mix-blend-mode:lighten"/>
<linearGradient id="ag4_-94" x1="0" y1="0" x2="1" y2="0"><stop offset="0" stop-color="#a3a3a3"/><stop offset="0.4" stop-color="#8c8c8c"/><stop offset="1" stop-color="#6e6e6e"/></linearGradient>
<linearGradient id="ag4_-94b" x1="0" y1="0" x2="1" y2="0"><stop offset="0" stop-color="#cccccc"/><stop offset="0.3" stop-color="#b2b2b2"/><stop offset="0.65" stop-color="#999999"/><stop offset="1" stop-color="#808080"/></linearGradient>
<g transform="translate(113.5,506.0) rotate(-94.09)" style="mix-blend-mode:lighten"><rect x="0" y="-9.0" width="66.14267539047279" height="18.0" fill="url(#ag4_-94)"/></g>
<g transform="translate(113.5,506.0) rotate(-94.09)" style="mix-blend-mode:lighten"><rect x="0" y="-4.1" width="66.14267539047279" height="8.1" fill="url(#ag4_-94b)"/></g>
<linearGradient id="ag4_88" x1="0" y1="0" x2="1" y2="0"><stop offset="0" stop-color="#a3a3a3"/><stop offset="0.4" stop-color="#8c8c8c"/><stop offset="1" stop-color="#6e6e6e"/></linearGradient>
<linearGradient id="ag4_88b" x1="0" y1="0" x2="1" y2="0"><stop offset="0" stop-color="#cccccc"/><stop offset="0.3" stop-color="#b2b2b2"/><stop offset="0.65" stop-color="#999999"/><stop offset="1" stop-color="#808080"/></linearGradient>
<g transform="translate(113.5,506.0) rotate(88.98)" style="mix-blend-mode:lighten"><rect x="0" y="-9.0" width="66.00892785976178" height="18.0" fill="url(#ag4_88)"/></g>
<g transform="translate(113.5,506.0) rotate(88.98)" style="mix-blend-mode:lighten"><rect x="0" y="-4.1" width="66.00892785976178" height="8.1" fill="url(#ag4_88b)"/></g>
<linearGradient id="ag4_-21" x1="0" y1="0" x2="1" y2="0"><stop offset="0" stop-color="#a3a3a3"/><stop offset="0.4" stop-color="#8c8c8c"/><stop offset="1" stop-color="#6e6e6e"/></linearGradient>
<linearGradient id="ag4_-21b" x1="0" y1="0" x2="1" y2="0"><stop offset="0" stop-color="#cccccc"/><stop offset="0.3" stop-color="#b2b2b2"/><stop offset="0.65" stop-color="#999999"/><stop offset="1" stop-color="#808080"/></linearGradient>
<g transform="translate(113.5,506.0) rotate(-21.99)" style="mix-blend-mode:lighten"><rect x="0" y="-9.6" width="66.0802995712398" height="19.2" fill="url(#ag4_-21)"/></g>
<g transform="translate(113.5,506.0) rotate(-21.99)" style="mix-blend-mode:lighten"><rect x="0" y="-4.3" width="66.0802995712398" height="8.6" fill="url(#ag4_-21b)"/></g>
<linearGradient id="ag4_159" x1="0" y1="0" x2="1" y2="0"><stop offset="0" stop-color="#a3a3a3"/><stop offset="0.4" stop-color="#8c8c8c"/><stop offset="1" stop-color="#6e6e6e"/></linearGradient>
<linearGradient id="ag4_159b" x1="0" y1="0" x2="1" y2="0"><stop offset="0" stop-color="#cccccc"/><stop offset="0.3" stop-color="#b2b2b2"/><stop offset="0.65" stop-color="#999999"/><stop offset="1" stop-color="#808080"/></linearGradient>
<g transform="translate(113.5,506.0) rotate(159.44)" style="mix-blend-mode:lighten"><rect x="0" y="-9.6" width="69.80802621722272" height="19.2" fill="url(#ag4_159)"/></g>
<g transform="translate(113.5,506.0) rotate(159.44)" style="mix-blend-mode:lighten"><rect x="0" y="-4.3" width="69.80802621722272" height="8.6" fill="url(#ag4_159b)"/></g>
<linearGradient id="ag4_-151" x1="0" y1="0" x2="1" y2="0"><stop offset="0" stop-color="#a3a3a3"/><stop offset="0.4" stop-color="#8c8c8c"/><stop offset="1" stop-color="#6e6e6e"/></linearGradient>
<linearGradient id="ag4_-151b" x1="0" y1="0" x2="1" y2="0"><stop offset="0" stop-color="#cccccc"/><stop offset="0.3" stop-color="#b2b2b2"/><stop offset="0.65" stop-color="#999999"/><stop offset="1" stop-color="#808080"/></linearGradient>
<g transform="translate(113.5,506.0) rotate(-151.03)" style="mix-blend-mode:lighten"><rect x="0" y="-9.6" width="74.00781202322104" height="19.2" fill="url(#ag4_-151)"/></g>
<g transform="translate(113.5,506.0) rotate(-151.03)" style="mix-blend-mode:lighten"><rect x="0" y="-4.3" width="74.00781202322104" height="8.6" fill="url(#ag4_-151b)"/></g>
<linearGradient id="ag4_28" x1="0" y1="0" x2="1" y2="0"><stop offset="0" stop-color="#a3a3a3"/><stop offset="0.4" stop-color="#8c8c8c"/><stop offset="1" stop-color="#6e6e6e"/></linearGradient>
<linearGradient id="ag4_28b" x1="0" y1="0" x2="1" y2="0"><stop offset="0" stop-color="#cccccc"/><stop offset="0.3" stop-color="#b2b2b2"/><stop offset="0.65" stop-color="#999999"/><stop offset="1" stop-color="#808080"/></linearGradient>
<g transform="translate(113.5,506.0) rotate(28.97)" style="mix-blend-mode:lighten"><rect x="0" y="-9.6" width="74.00781202322104" height="19.2" fill="url(#ag4_28)"/></g>
<g transform="translate(113.5,506.0) rotate(28.97)" style="mix-blend-mode:lighten"><rect x="0" y="-4.3" width="74.00781202322104" height="8.6" fill="url(#ag4_28b)"/></g>
<circle cx="113.5" cy="506.0" r="24" fill="url(#co4)" style="mix-blend-mode:lighten"/>
</g>
<g filter="url(#bl07)">
<g transform="translate(113.5,506.0) rotate(-94.09)" style="mix-blend-mode:lighten">
<line x1="5.3" y1="-5.2" x2="8.3" y2="5.2" stroke="#bfbfbf" stroke-width="1.2"/>
<line x1="8.7" y1="-5.2" x2="11.7" y2="5.2" stroke="#bdbdbd" stroke-width="1.2"/>
<line x1="12.1" y1="-5.2" x2="15.1" y2="5.2" stroke="#bababa" stroke-width="1.2"/>
<line x1="15.5" y1="-5.2" x2="18.5" y2="5.2" stroke="#b8b8b8" stroke-width="1.2"/>
<line x1="18.9" y1="-5.2" x2="21.9" y2="5.2" stroke="#b5b5b5" stroke-width="1.2"/>
<line x1="22.3" y1="-5.2" x2="25.3" y2="5.2" stroke="#b2b2b2" stroke-width="1.2"/>
<line x1="25.7" y1="-5.2" x2="28.7" y2="5.2" stroke="#b0b0b0" stroke-width="1.2"/>
<line x1="29.1" y1="-5.2" x2="32.1" y2="5.2" stroke="#adadad" stroke-width="1.2"/>
<line x1="32.5" y1="-5.2" x2="35.5" y2="5.2" stroke="#ababab" stroke-width="1.2"/>
<line x1="35.9" y1="-5.2" x2="38.9" y2="5.2" stroke="#a8a8a8" stroke-width="1.2"/>
<line x1="39.3" y1="-5.2" x2="42.3" y2="5.2" stroke="#a6a6a6" stroke-width="1.2"/>
</g>
<g transform="translate(113.5,506.0) rotate(88.98)" style="mix-blend-mode:lighten">
<line x1="5.3" y1="-5.2" x2="8.3" y2="5.2" stroke="#bfbfbf" stroke-width="1.2"/>
<line x1="8.7" y1="-5.2" x2="11.7" y2="5.2" stroke="#bdbdbd" stroke-width="1.2"/>
<line x1="12.1" y1="-5.2" x2="15.1" y2="5.2" stroke="#bababa" stroke-width="1.2"/>
<line x1="15.5" y1="-5.2" x2="18.5" y2="5.2" stroke="#b8b8b8" stroke-width="1.2"/>
<line x1="18.9" y1="-5.2" x2="21.9" y2="5.2" stroke="#b5b5b5" stroke-width="1.2"/>
<line x1="22.3" y1="-5.2" x2="25.3" y2="5.2" stroke="#b2b2b2" stroke-width="1.2"/>
<line x1="25.7" y1="-5.2" x2="28.7" y2="5.2" stroke="#b0b0b0" stroke-width="1.2"/>
<line x1="29.1" y1="-5.2" x2="32.1" y2="5.2" stroke="#adadad" stroke-width="1.2"/>
<line x1="32.5" y1="-5.2" x2="35.5" y2="5.2" stroke="#ababab" stroke-width="1.2"/>
<line x1="35.9" y1="-5.2" x2="38.9" y2="5.2" stroke="#a8a8a8" stroke-width="1.2"/>
<line x1="39.3" y1="-5.2" x2="42.3" y2="5.2" stroke="#a6a6a6" stroke-width="1.2"/>
</g>
<g transform="translate(113.5,506.0) rotate(-21.99)" style="mix-blend-mode:lighten">
<line x1="5.3" y1="-5.6" x2="8.3" y2="5.6" stroke="#bfbfbf" stroke-width="1.2"/>
<line x1="8.7" y1="-5.6" x2="11.7" y2="5.6" stroke="#bdbdbd" stroke-width="1.2"/>
<line x1="12.1" y1="-5.6" x2="15.1" y2="5.6" stroke="#bababa" stroke-width="1.2"/>
<line x1="15.5" y1="-5.6" x2="18.5" y2="5.6" stroke="#b8b8b8" stroke-width="1.2"/>
<line x1="18.9" y1="-5.6" x2="21.9" y2="5.6" stroke="#b5b5b5" stroke-width="1.2"/>
<line x1="22.3" y1="-5.6" x2="25.3" y2="5.6" stroke="#b2b2b2" stroke-width="1.2"/>
<line x1="25.7" y1="-5.6" x2="28.7" y2="5.6" stroke="#b0b0b0" stroke-width="1.2"/>
<line x1="29.1" y1="-5.6" x2="32.1" y2="5.6" stroke="#adadad" stroke-width="1.2"/>
<line x1="32.5" y1="-5.6" x2="35.5" y2="5.6" stroke="#ababab" stroke-width="1.2"/>
<line x1="35.9" y1="-5.6" x2="38.9" y2="5.6" stroke="#a8a8a8" stroke-width="1.2"/>
<line x1="39.3" y1="-5.6" x2="42.3" y2="5.6" stroke="#a6a6a6" stroke-width="1.2"/>
</g>
<g transform="translate(113.5,506.0) rotate(159.44)" style="mix-blend-mode:lighten">
<line x1="5.3" y1="-5.6" x2="8.3" y2="5.6" stroke="#bfbfbf" stroke-width="1.2"/>
<line x1="8.7" y1="-5.6" x2="11.7" y2="5.6" stroke="#bdbdbd" stroke-width="1.2"/>
<line x1="12.1" y1="-5.6" x2="15.1" y2="5.6" stroke="#bababa" stroke-width="1.2"/>
<line x1="15.5" y1="-5.6" x2="18.5" y2="5.6" stroke="#b8b8b8" stroke-width="1.2"/>
<line x1="18.9" y1="-5.6" x2="21.9" y2="5.6" stroke="#b5b5b5" stroke-width="1.2"/>
<line x1="22.3" y1="-5.6" x2="25.3" y2="5.6" stroke="#b2b2b2" stroke-width="1.2"/>
<line x1="25.7" y1="-5.6" x2="28.7" y2="5.6" stroke="#b0b0b0" stroke-width="1.2"/>
<line x1="29.1" y1="-5.6" x2="32.1" y2="5.6" stroke="#adadad" stroke-width="1.2"/>
<line x1="32.5" y1="-5.6" x2="35.5" y2="5.6" stroke="#ababab" stroke-width="1.2"/>
<line x1="35.9" y1="-5.6" x2="38.9" y2="5.6" stroke="#a8a8a8" stroke-width="1.2"/>
<line x1="39.3" y1="-5.6" x2="42.3" y2="5.6" stroke="#a6a6a6" stroke-width="1.2"/>
</g>
<g transform="translate(113.5,506.0) rotate(-151.03)" style="mix-blend-mode:lighten">
<line x1="5.3" y1="-5.6" x2="8.3" y2="5.6" stroke="#bfbfbf" stroke-width="1.2"/>
<line x1="8.7" y1="-5.6" x2="11.7" y2="5.6" stroke="#bdbdbd" stroke-width="1.2"/>
<line x1="12.1" y1="-5.6" x2="15.1" y2="5.6" stroke="#bababa" stroke-width="1.2"/>
<line x1="15.5" y1="-5.6" x2="18.5" y2="5.6" stroke="#b8b8b8" stroke-width="1.2"/>
<line x1="18.9" y1="-5.6" x2="21.9" y2="5.6" stroke="#b5b5b5" stroke-width="1.2"/>
<line x1="22.3" y1="-5.6" x2="25.3" y2="5.6" stroke="#b2b2b2" stroke-width="1.2"/>
<line x1="25.7" y1="-5.6" x2="28.7" y2="5.6" stroke="#b0b0b0" stroke-width="1.2"/>
<line x1="29.1" y1="-5.6" x2="32.1" y2="5.6" stroke="#adadad" stroke-width="1.2"/>
<line x1="32.5" y1="-5.6" x2="35.5" y2="5.6" stroke="#ababab" stroke-width="1.2"/>
<line x1="35.9" y1="-5.6" x2="38.9" y2="5.6" stroke="#a8a8a8" stroke-width="1.2"/>
<line x1="39.3" y1="-5.6" x2="42.3" y2="5.6" stroke="#a6a6a6" stroke-width="1.2"/>
</g>
<g transform="translate(113.5,506.0) rotate(28.97)" style="mix-blend-mode:lighten">
<line x1="5.3" y1="-5.6" x2="8.3" y2="5.6" stroke="#bfbfbf" stroke-width="1.2"/>
<line x1="8.7" y1="-5.6" x2="11.7" y2="5.6" stroke="#bdbdbd" stroke-width="1.2"/>
<line x1="12.1" y1="-5.6" x2="15.1" y2="5.6" stroke="#bababa" stroke-width="1.2"/>
<line x1="15.5" y1="-5.6" x2="18.5" y2="5.6" stroke="#b8b8b8" stroke-width="1.2"/>
<line x1="18.9" y1="-5.6" x2="21.9" y2="5.6" stroke="#b5b5b5" stroke-width="1.2"/>
<line x1="22.3" y1="-5.6" x2="25.3" y2="5.6" stroke="#b2b2b2" stroke-width="1.2"/>
<line x1="25.7" y1="-5.6" x2="28.7" y2="5.6" stroke="#b0b0b0" stroke-width="1.2"/>
<line x1="29.1" y1="-5.6" x2="32.1" y2="5.6" stroke="#adadad" stroke-width="1.2"/>
<line x1="32.5" y1="-5.6" x2="35.5" y2="5.6" stroke="#ababab" stroke-width="1.2"/>
<line x1="35.9" y1="-5.6" x2="38.9" y2="5.6" stroke="#a8a8a8" stroke-width="1.2"/>
<line x1="39.3" y1="-5.6" x2="42.3" y2="5.6" stroke="#a6a6a6" stroke-width="1.2"/>
</g>
</g></g>
<line x1="126" y1="476.2" x2="66.6" y2="499.3" stroke="#fff" stroke-width="1.2" opacity="0.9"/>
</g>
<rect x="62" y="454.5" width="104.30000000000001" height="105.0" fill="none" stroke="#1a1a1a" stroke-width="1.4"/>
<line x1="62" y1="465.4" x2="68" y2="465.4" stroke="#444" stroke-width="1"/>
<line x1="166.3" y1="465.4" x2="160.3" y2="465.4" stroke="#444" stroke-width="1"/>
<line x1="62" y1="507.0" x2="68" y2="507.0" stroke="#444" stroke-width="1"/>
<line x1="166.3" y1="507.0" x2="160.3" y2="507.0" stroke="#444" stroke-width="1"/>
<line x1="62" y1="548.8" x2="68" y2="548.8" stroke="#444" stroke-width="1"/>
<line x1="166.3" y1="548.8" x2="160.3" y2="548.8" stroke="#444" stroke-width="1"/>
<line x1="71.6" y1="559.5" x2="71.6" y2="553.5" stroke="#444" stroke-width="1"/>
<line x1="71.6" y1="454.5" x2="71.6" y2="460.5" stroke="#444" stroke-width="1"/>
<line x1="113.9" y1="559.5" x2="113.9" y2="553.5" stroke="#444" stroke-width="1"/>
<line x1="113.9" y1="454.5" x2="113.9" y2="460.5" stroke="#444" stroke-width="1"/>
<line x1="156.0" y1="559.5" x2="156.0" y2="553.5" stroke="#444" stroke-width="1"/>
<line x1="156.0" y1="454.5" x2="156.0" y2="460.5" stroke="#444" stroke-width="1"/>
<text x="70.4" y="470.7" font-size="14.2" text-anchor="start" fill="#111" textLength="18.8" lengthAdjust="spacingAndGlyphs" stroke="#111" stroke-width="0.3">203</text>
<text x="32.3" y="469.8" font-size="15" fill="#333" textLength="26.2" lengthAdjust="spacingAndGlyphs" >0.04</text>
<text x="51.5" y="512.7" font-size="15" fill="#333" textLength="7.8" lengthAdjust="spacingAndGlyphs" >0</text>
<text x="25.8" y="555.9" font-size="15" fill="#333" textLength="33.5" lengthAdjust="spacingAndGlyphs" >-0.04</text>
<text transform="translate(21.5,510.0) rotate(-90)" font-size="14.5" text-anchor="middle" fill="#222" stroke="#222" stroke-width="0.45">ΔQ<tspan font-size="11" dy="3">y</tspan><tspan dy="-3"> (nm</tspan><tspan font-size="10" dy="-5.5">−1</tspan><tspan dy="5.5">)</tspan></text>
<linearGradient id="cbg4" x1="0" y1="1" x2="0" y2="0"><stop offset="0" stop-color="#ffffff"/><stop offset="0.1" stop-color="#fce2c4"/><stop offset="0.2" stop-color="#f5a445"/><stop offset="0.36" stop-color="#ea6e18"/><stop offset="0.56" stop-color="#bf3e18"/><stop offset="0.76" stop-color="#5a1c10"/><stop offset="1" stop-color="#100404"/></linearGradient>
<rect x="175.8" y="454.5" width="6" height="105.0" fill="url(#cbg4)" stroke="#1a1a1a" stroke-width="1.4"/>
<line x1="181.8" y1="467.2" x2="179.3" y2="467.2" stroke="#333" stroke-width="0.8"/>
<text x="184" y="472.1" font-size="14" fill="#333"><tspan textLength="13" lengthAdjust="spacingAndGlyphs">10</tspan><tspan font-size="11" dx="0.8" dy="-5">4</tspan></text>
<line x1="181.8" y1="489.9" x2="179.3" y2="489.9" stroke="#333" stroke-width="0.8"/>
<text x="184" y="494.8" font-size="14" fill="#333"><tspan textLength="13" lengthAdjust="spacingAndGlyphs">10</tspan><tspan font-size="11" dx="0.8" dy="-5">3</tspan></text>
<line x1="181.8" y1="512.5" x2="179.3" y2="512.5" stroke="#333" stroke-width="0.8"/>
<text x="184" y="517.4" font-size="14" fill="#333"><tspan textLength="13" lengthAdjust="spacingAndGlyphs">10</tspan><tspan font-size="11" dx="0.8" dy="-5">2</tspan></text>
<line x1="181.8" y1="534.3" x2="179.3" y2="534.3" stroke="#333" stroke-width="0.8"/>
<text x="184" y="539.2" font-size="14" fill="#333">10</text>
<line x1="181.8" y1="557.4" x2="179.3" y2="557.4" stroke="#333" stroke-width="0.8"/>
<text x="184" y="562.3" font-size="14" fill="#333">1</text>
<text x="56.1" y="574.8" font-size="15" fill="#333" textLength="30.8" lengthAdjust="spacingAndGlyphs" >-0.04</text>
<text x="110.5" y="574.8" font-size="15" fill="#333" textLength="7.4" lengthAdjust="spacingAndGlyphs" >0</text>
<text x="141.5" y="574.8" font-size="15" fill="#333" textLength="25.2" lengthAdjust="spacingAndGlyphs" >0.04</text>
<text x="114" y="595" font-size="14.5" text-anchor="middle" fill="#222" stroke="#222" stroke-width="0.45">ΔQ<tspan font-size="11" dy="3">x</tspan><tspan dy="-3"> (nm</tspan><tspan font-size="10" dy="-5.5">−1</tspan><tspan dy="5.5">)</tspan></text>
<text x="7.5" y="21" font-size="17.5" font-weight="bold" font-style="italic" fill="#e0137f" textLength="15" lengthAdjust="spacingAndGlyphs">a)</text>
<text x="229.3" y="20.5" font-size="17.5" font-weight="bold" fill="#e0137f" textLength="15" lengthAdjust="spacingAndGlyphs">b)</text>
<clipPath id="mh0"><polygon points="314.8,24.3 352.8,26.6 373.5,69.8 354.0,103.1 298.7,100.8 286.6,69.3"/></clipPath>
<g clip-path="url(#mh0)"><g filter="url(#mcm)">
<rect x="274.8" y="14.5" width="103.19999999999999" height="105.0" fill="#000"/>
<g filter="url(#bl2)"><polygon points="315.7,26.8 351.4,28.9 370.9,69.6 352.6,100.9 300.6,98.7 289.2,69.1" fill="#6b6b6b"/></g>
<g filter="url(#bl4)">
<ellipse cx="324.8" cy="62.5" rx="12" ry="9" fill="#a3a3a3" style="mix-blend-mode:lighten"/>
<ellipse cx="306.8" cy="56.5" rx="8" ry="10" fill="#999999" style="mix-blend-mode:lighten"/>
<ellipse cx="342.8" cy="66.5" rx="8" ry="6" fill="#999999" style="mix-blend-mode:lighten"/>
<ellipse cx="336.8" cy="39.5" rx="8" ry="6" fill="#949494" style="mix-blend-mode:lighten"/>
<ellipse cx="319.8" cy="84.5" rx="8" ry="8" fill="#999999" style="mix-blend-mode:lighten"/>
<ellipse cx="349.8" cy="86.5" rx="6" ry="5" fill="#949494" style="mix-blend-mode:lighten"/>
<ellipse cx="294.8" cy="74.5" rx="5" ry="8" fill="#5c5c5c" style="mix-blend-mode:lighten"/>
</g>
<g filter="url(#bl1)" opacity="0.95"><polyline points="315.0,25.0 332.3,54.8 365.6,52.5" fill="none" stroke="#050505" stroke-width="2.6"/><polyline points="371.4,76.7 339.2,76.7 330.0,103.1" fill="none" stroke="#050505" stroke-width="2.6"/></g>
</g></g>
<rect x="274.8" y="14.5" width="103.19999999999999" height="105.0" fill="none" stroke="#1a1a1a" stroke-width="1.4"/>
<line x1="274.8" y1="30.8" x2="280.8" y2="30.8" stroke="#444" stroke-width="1"/>
<line x1="378.0" y1="30.8" x2="372.0" y2="30.8" stroke="#444" stroke-width="1"/>
<line x1="274.8" y1="67.0" x2="280.8" y2="67.0" stroke="#444" stroke-width="1"/>
<line x1="378.0" y1="67.0" x2="372.0" y2="67.0" stroke="#444" stroke-width="1"/>
<line x1="274.8" y1="103.2" x2="280.8" y2="103.2" stroke="#444" stroke-width="1"/>
<line x1="378.0" y1="103.2" x2="372.0" y2="103.2" stroke="#444" stroke-width="1"/>
<line x1="290.2" y1="119.5" x2="290.2" y2="113.5" stroke="#444" stroke-width="1"/>
<line x1="290.2" y1="14.5" x2="290.2" y2="20.5" stroke="#444" stroke-width="1"/>
<line x1="326.90000000000003" y1="119.5" x2="326.90000000000003" y2="113.5" stroke="#444" stroke-width="1"/>
<line x1="326.90000000000003" y1="14.5" x2="326.90000000000003" y2="20.5" stroke="#444" stroke-width="1"/>
<line x1="363.0" y1="119.5" x2="363.0" y2="113.5" stroke="#444" stroke-width="1"/>
<line x1="363.0" y1="14.5" x2="363.0" y2="20.5" stroke="#444" stroke-width="1"/>
<text x="281.1" y="30.7" font-size="14.2" text-anchor="start" fill="#111" textLength="18.8" lengthAdjust="spacingAndGlyphs" stroke="#111" stroke-width="0.3">004</text>
<clipPath id="ph0"><polygon points="424.8,25.0 462.8,25.6 484.6,71.6 468.5,103.1 412.2,102.0 396.1,68.6"/></clipPath>
<g clip-path="url(#ph0)"><g filter="url(#pnz)">
<rect x="384.6" y="14.5" width="104.89999999999998" height="105.0" fill="#98ca6c"/>
<ellipse cx="414.6" cy="74.5" rx="9" ry="7" fill="#a8d4b8" filter="url(#bl2)"/>
<ellipse cx="436.6" cy="66.5" rx="7" ry="4" fill="#a4d2b8" filter="url(#bl2)"/>
<ellipse cx="456.6" cy="64.5" rx="6" ry="4" fill="#9cd0b8" filter="url(#bl2)"/>
<ellipse cx="426.6" cy="46.5" rx="5" ry="6" fill="#a0d0b0" filter="url(#bl2)"/>
<ellipse cx="419.6" cy="94.5" rx="6" ry="4" fill="#a0d0b0" filter="url(#bl2)"/>
<clipPath id="pr0up"><polygon points="424.8,25.0 462.8,25.6 475.4,52.5 442.1,54.8"/></clipPath>
<g clip-path="url(#pr0up)"><polygon points="424.8,25.0 462.8,25.6 475.4,52.5 442.1,54.8" fill="#a452a4"/>
<ellipse cx="446.6" cy="38.5" rx="8" ry="6" fill="#d04898" filter="url(#bl2)"/>
<ellipse cx="434.6" cy="34.5" rx="5" ry="4" fill="#8058b0" filter="url(#bl2)"/>
<ellipse cx="466.6" cy="89.5" rx="6" ry="5" fill="#7050b0" filter="url(#bl2)"/>
<ellipse cx="452.6" cy="86.5" rx="6" ry="5" fill="#c84898" filter="url(#bl2)"/>
<ellipse cx="464.6" cy="46.5" rx="5" ry="5" fill="#6a50a8" filter="url(#bl2)"/>
</g>
<line x1="442.1" y1="54.8" x2="424.8" y2="25.0" stroke="#1a3aa0" stroke-width="1.8"/>
<line x1="462.8" y1="25.6" x2="475.4" y2="52.5" stroke="#1a3aa0" stroke-width="1.6"/>
<line x1="475.4" y1="52.5" x2="442.1" y2="54.8" stroke="#1a3aa0" stroke-width="1.8"/>
<clipPath id="pr0lo"><polygon points="439.8,103.1 449.0,76.7 481.2,76.7 468.5,103.1"/></clipPath>
<g clip-path="url(#pr0lo)"><polygon points="439.8,103.1 449.0,76.7 481.2,76.7 468.5,103.1" fill="#a452a4"/>
<ellipse cx="446.6" cy="38.5" rx="8" ry="6" fill="#d04898" filter="url(#bl2)"/>
<ellipse cx="434.6" cy="34.5" rx="5" ry="4" fill="#8058b0" filter="url(#bl2)"/>
<ellipse cx="466.6" cy="89.5" rx="6" ry="5" fill="#7050b0" filter="url(#bl2)"/>
<ellipse cx="452.6" cy="86.5" rx="6" ry="5" fill="#c84898" filter="url(#bl2)"/>
<ellipse cx="464.6" cy="46.5" rx="5" ry="5" fill="#6a50a8" filter="url(#bl2)"/>
</g>
<line x1="439.8" y1="103.1" x2="449.0" y2="76.7" stroke="#1a3aa0" stroke-width="1.2"/>
<line x1="449.0" y1="76.7" x2="481.2" y2="76.7" stroke="#1a3aa0" stroke-width="1.6"/>
<line x1="481.2" y1="76.7" x2="468.5" y2="103.1" stroke="#2a50b0" stroke-width="1.2"/>
</g></g>
<rect x="384.6" y="14.5" width="104.89999999999998" height="105.0" fill="none" stroke="#1a1a1a" stroke-width="1.4"/>
<line x1="384.6" y1="30.8" x2="390.6" y2="30.8" stroke="#444" stroke-width="1"/>
<line x1="489.5" y1="30.8" x2="483.5" y2="30.8" stroke="#444" stroke-width="1"/>
<line x1="384.6" y1="67.0" x2="390.6" y2="67.0" stroke="#444" stroke-width="1"/>
<line x1="489.5" y1="67.0" x2="483.5" y2="67.0" stroke="#444" stroke-width="1"/>
<line x1="384.6" y1="103.2" x2="390.6" y2="103.2" stroke="#444" stroke-width="1"/>
<line x1="489.5" y1="103.2" x2="483.5" y2="103.2" stroke="#444" stroke-width="1"/>
<line x1="400.0" y1="119.5" x2="400.0" y2="113.5" stroke="#444" stroke-width="1"/>
<line x1="400.0" y1="14.5" x2="400.0" y2="20.5" stroke="#444" stroke-width="1"/>
<line x1="436.70000000000005" y1="119.5" x2="436.70000000000005" y2="113.5" stroke="#444" stroke-width="1"/>
<line x1="436.70000000000005" y1="14.5" x2="436.70000000000005" y2="20.5" stroke="#444" stroke-width="1"/>
<line x1="472.8" y1="119.5" x2="472.8" y2="113.5" stroke="#444" stroke-width="1"/>
<line x1="472.8" y1="14.5" x2="472.8" y2="20.5" stroke="#444" stroke-width="1"/>
<text x="390.90000000000003" y="30.7" font-size="14.2" text-anchor="start" fill="#111" textLength="18.8" lengthAdjust="spacingAndGlyphs" stroke="#111" stroke-width="0.3">004</text>
<text x="246.7" y="36.4" font-size="15" fill="#333" textLength="24.0" lengthAdjust="spacingAndGlyphs" >200</text>
<text x="262.7" y="72.7" font-size="15" fill="#333" textLength="7.8" lengthAdjust="spacingAndGlyphs" >0</text>
<text x="240.8" y="109.1" font-size="15" fill="#333" textLength="29.9" lengthAdjust="spacingAndGlyphs" >-200</text>
<text transform="translate(241.5,72.2) rotate(-90)" font-size="14.5" text-anchor="middle" fill="#222" stroke="#222" stroke-width="0.45">Y (nm)</text>
<clipPath id="mh1"><polygon points="313.7,134.3 349.3,136.6 371.2,178.6 352.8,213.1 297.6,210.8 286.1,177.5"/></clipPath>
<g clip-path="url(#mh1)"><g filter="url(#mcm)">
<rect x="274.8" y="124.5" width="103.19999999999999" height="105.0" fill="#000"/>
<g filter="url(#bl2)"><polygon points="314.6,136.8 348.0,138.9 368.6,178.4 351.3,210.8 299.5,208.7 288.6,177.4" fill="#666666"/></g>
<g filter="url(#bl4)">
<ellipse cx="331.8" cy="154.5" rx="7" ry="6" fill="#a3a3a3" style="mix-blend-mode:lighten"/>
<ellipse cx="336.8" cy="175.5" rx="9" ry="7" fill="#a8a8a8" style="mix-blend-mode:lighten"/>
<ellipse cx="304.8" cy="163.5" rx="7" ry="8" fill="#9e9e9e" style="mix-blend-mode:lighten"/>
<ellipse cx="324.8" cy="195.5" rx="7" ry="6" fill="#9e9e9e" style="mix-blend-mode:lighten"/>
<ellipse cx="354.8" cy="169.5" rx="6" ry="5" fill="#949494" style="mix-blend-mode:lighten"/>
<ellipse cx="314.8" cy="179.5" rx="6" ry="6" fill="#999999" style="mix-blend-mode:lighten"/>
</g>
<g filter="url(#bl1)" opacity="0.9"><polyline points="315.1,134.3 330.0,164.8 365.6,163.7" fill="none" stroke="#050505" stroke-width="2.6"/><polyline points="369.1,187.8 339.2,186.7 328.8,213.1" fill="none" stroke="#050505" stroke-width="2.6"/></g>
</g></g>
<rect x="274.8" y="124.5" width="103.19999999999999" height="105.0" fill="none" stroke="#1a1a1a" stroke-width="1.4"/>
<line x1="274.8" y1="140.8" x2="280.8" y2="140.8" stroke="#444" stroke-width="1"/>
<line x1="378.0" y1="140.8" x2="372.0" y2="140.8" stroke="#444" stroke-width="1"/>
<line x1="274.8" y1="177.0" x2="280.8" y2="177.0" stroke="#444" stroke-width="1"/>
<line x1="378.0" y1="177.0" x2="372.0" y2="177.0" stroke="#444" stroke-width="1"/>
<line x1="274.8" y1="213.2" x2="280.8" y2="213.2" stroke="#444" stroke-width="1"/>
<line x1="378.0" y1="213.2" x2="372.0" y2="213.2" stroke="#444" stroke-width="1"/>
<line x1="290.2" y1="229.5" x2="290.2" y2="223.5" stroke="#444" stroke-width="1"/>
<line x1="290.2" y1="124.5" x2="290.2" y2="130.5" stroke="#444" stroke-width="1"/>
<line x1="326.90000000000003" y1="229.5" x2="326.90000000000003" y2="223.5" stroke="#444" stroke-width="1"/>
<line x1="326.90000000000003" y1="124.5" x2="326.90000000000003" y2="130.5" stroke="#444" stroke-width="1"/>
<line x1="363.0" y1="229.5" x2="363.0" y2="223.5" stroke="#444" stroke-width="1"/>
<line x1="363.0" y1="124.5" x2="363.0" y2="130.5" stroke="#444" stroke-width="1"/>
<text x="281.1" y="140.7" font-size="14.2" text-anchor="start" fill="#111" textLength="18.8" lengthAdjust="spacingAndGlyphs" stroke="#111" stroke-width="0.3">014</text>
<clipPath id="ph1"><polygon points="424.9,134.3 459.3,136.1 482.3,181.6 461.6,213.8 412.2,212.0 396.6,180.3"/></clipPath>
<g clip-path="url(#ph1)"><g filter="url(#pnz)">
<rect x="384.6" y="124.5" width="104.89999999999998" height="105.0" fill="#98ca6c"/>
<ellipse cx="425.6" cy="175.5" rx="8" ry="6" fill="#a8d4c4" filter="url(#bl2)"/>
<ellipse cx="407.6" cy="191.5" rx="8" ry="6" fill="#a8d4c0" filter="url(#bl2)"/>
<ellipse cx="437.6" cy="200.5" rx="7" ry="5" fill="#a4d2c0" filter="url(#bl2)"/>
<ellipse cx="459.6" cy="176.5" rx="6" ry="4" fill="#a0d0b8" filter="url(#bl2)"/>
<ellipse cx="414.6" cy="169.5" rx="5" ry="5" fill="#a0d0b0" filter="url(#bl2)"/>
<clipPath id="pr1up"><polygon points="424.9,134.3 459.3,136.1 475.4,163.7 439.8,164.8"/></clipPath>
<g clip-path="url(#pr1up)"><polygon points="424.9,134.3 459.3,136.1 475.4,163.7 439.8,164.8" fill="#a452a4"/>
<ellipse cx="441.6" cy="149.5" rx="9" ry="9" fill="#d84890" filter="url(#bl2)"/>
<ellipse cx="441.6" cy="154.5" rx="3" ry="3" fill="#f02880" filter="url(#bl2)"/>
<ellipse cx="462.6" cy="152.5" rx="9" ry="8" fill="#4a48a0" filter="url(#bl2)"/>
<ellipse cx="459.6" cy="162.5" rx="16" ry="3" fill="#223c98" filter="url(#bl2)"/>
<ellipse cx="455.6" cy="189.5" rx="6" ry="4" fill="#e04090" filter="url(#bl2)"/>
<ellipse cx="469.6" cy="199.5" rx="6" ry="6" fill="#6a50a8" filter="url(#bl2)"/>
</g>
<line x1="439.8" y1="164.8" x2="424.9" y2="134.3" stroke="#1a3aa0" stroke-width="2"/>
<line x1="459.3" y1="136.1" x2="475.4" y2="163.7" stroke="#1a3aa0" stroke-width="2.4"/>
<line x1="475.4" y1="163.7" x2="439.8" y2="164.8" stroke="#1a3aa0" stroke-width="2.6"/>
<clipPath id="pr1lo"><polygon points="438.6,213.1 449.0,186.7 478.9,187.8 461.6,213.8"/></clipPath>
<g clip-path="url(#pr1lo)"><polygon points="438.6,213.1 449.0,186.7 478.9,187.8 461.6,213.8" fill="#a452a4"/>
<ellipse cx="441.6" cy="149.5" rx="9" ry="9" fill="#d84890" filter="url(#bl2)"/>
<ellipse cx="441.6" cy="154.5" rx="3" ry="3" fill="#f02880" filter="url(#bl2)"/>
<ellipse cx="462.6" cy="152.5" rx="9" ry="8" fill="#4a48a0" filter="url(#bl2)"/>
<ellipse cx="459.6" cy="162.5" rx="16" ry="3" fill="#223c98" filter="url(#bl2)"/>
<ellipse cx="455.6" cy="189.5" rx="6" ry="4" fill="#e04090" filter="url(#bl2)"/>
<ellipse cx="469.6" cy="199.5" rx="6" ry="6" fill="#6a50a8" filter="url(#bl2)"/>
</g>
<line x1="438.6" y1="213.1" x2="449.0" y2="186.7" stroke="#2a60b0" stroke-width="1.5"/>
<line x1="449.0" y1="186.7" x2="478.9" y2="187.8" stroke="#1a3aa0" stroke-width="2"/>
<line x1="478.9" y1="187.8" x2="461.6" y2="213.8" stroke="#2a50b0" stroke-width="1.5"/>
<line x1="424.9" y1="134.3" x2="459.3" y2="136.1" stroke="#2a6ab8" stroke-width="2.4" stroke-dasharray="2.5 3.5"/>
</g></g>
<rect x="384.6" y="124.5" width="104.89999999999998" height="105.0" fill="none" stroke="#1a1a1a" stroke-width="1.4"/>
<line x1="384.6" y1="140.8" x2="390.6" y2="140.8" stroke="#444" stroke-width="1"/>
<line x1="489.5" y1="140.8" x2="483.5" y2="140.8" stroke="#444" stroke-width="1"/>
<line x1="384.6" y1="177.0" x2="390.6" y2="177.0" stroke="#444" stroke-width="1"/>
<line x1="489.5" y1="177.0" x2="483.5" y2="177.0" stroke="#444" stroke-width="1"/>
<line x1="384.6" y1="213.2" x2="390.6" y2="213.2" stroke="#444" stroke-width="1"/>
<line x1="489.5" y1="213.2" x2="483.5" y2="213.2" stroke="#444" stroke-width="1"/>
<line x1="400.0" y1="229.5" x2="400.0" y2="223.5" stroke="#444" stroke-width="1"/>
<line x1="400.0" y1="124.5" x2="400.0" y2="130.5" stroke="#444" stroke-width="1"/>
<line x1="436.70000000000005" y1="229.5" x2="436.70000000000005" y2="223.5" stroke="#444" stroke-width="1"/>
<line x1="436.70000000000005" y1="124.5" x2="436.70000000000005" y2="130.5" stroke="#444" stroke-width="1"/>
<line x1="472.8" y1="229.5" x2="472.8" y2="223.5" stroke="#444" stroke-width="1"/>
<line x1="472.8" y1="124.5" x2="472.8" y2="130.5" stroke="#444" stroke-width="1"/>
<text x="390.90000000000003" y="140.7" font-size="14.2" text-anchor="start" fill="#111" textLength="18.8" lengthAdjust="spacingAndGlyphs" stroke="#111" stroke-width="0.3">014</text>
<text x="246.7" y="146.4" font-size="15" fill="#333" textLength="24.0" lengthAdjust="spacingAndGlyphs" >200</text>
<text x="262.7" y="182.7" font-size="15" fill="#333" textLength="7.8" lengthAdjust="spacingAndGlyphs" >0</text>
<text x="240.8" y="219.1" font-size="15" fill="#333" textLength="29.9" lengthAdjust="spacingAndGlyphs" >-200</text>
<text transform="translate(241.5,182.2) rotate(-90)" font-size="14.5" text-anchor="middle" fill="#222" stroke="#222" stroke-width="0.45">Y (nm)</text>
<clipPath id="mh2"><polygon points="313.3,244.3 348.6,245.3 371.8,288.6 348.6,323.5 300.8,322.5 285.3,287.6"/></clipPath>
<g clip-path="url(#mh2)"><g filter="url(#mcm)">
<rect x="274.8" y="234.5" width="103.19999999999999" height="105.0" fill="#000"/>
<g filter="url(#bl2)"><polygon points="314.2,246.8 347.4,247.7 369.2,288.4 347.4,321.2 302.4,320.3 287.9,287.5" fill="#666666"/></g>
<g filter="url(#bl4)">
<ellipse cx="327.8" cy="289.5" rx="10" ry="9" fill="#a8a8a8" style="mix-blend-mode:lighten"/>
<ellipse cx="313.8" cy="273.5" rx="8" ry="8" fill="#9e9e9e" style="mix-blend-mode:lighten"/>
<ellipse cx="344.8" cy="264.5" rx="8" ry="6" fill="#949494" style="mix-blend-mode:lighten"/>
<ellipse cx="336.8" cy="306.5" rx="8" ry="6" fill="#949494" style="mix-blend-mode:lighten"/>
<ellipse cx="309.8" cy="299.5" rx="6" ry="6" fill="#949494" style="mix-blend-mode:lighten"/>
</g>
<g filter="url(#bl1)" opacity="0.85"><polyline points="313.9,244.3 332.3,274.8 364.5,272.5" fill="none" stroke="#0d0d0d" stroke-width="2.6"/><polyline points="367.9,295.5 338.0,296.7 326.5,323.1" fill="none" stroke="#0d0d0d" stroke-width="2.6"/></g>
</g></g>
<rect x="274.8" y="234.5" width="103.19999999999999" height="105.0" fill="none" stroke="#1a1a1a" stroke-width="1.4"/>
<line x1="274.8" y1="250.8" x2="280.8" y2="250.8" stroke="#444" stroke-width="1"/>
<line x1="378.0" y1="250.8" x2="372.0" y2="250.8" stroke="#444" stroke-width="1"/>
<line x1="274.8" y1="287.0" x2="280.8" y2="287.0" stroke="#444" stroke-width="1"/>
<line x1="378.0" y1="287.0" x2="372.0" y2="287.0" stroke="#444" stroke-width="1"/>
<line x1="274.8" y1="323.2" x2="280.8" y2="323.2" stroke="#444" stroke-width="1"/>
<line x1="378.0" y1="323.2" x2="372.0" y2="323.2" stroke="#444" stroke-width="1"/>
<line x1="290.2" y1="339.5" x2="290.2" y2="333.5" stroke="#444" stroke-width="1"/>
<line x1="290.2" y1="234.5" x2="290.2" y2="240.5" stroke="#444" stroke-width="1"/>
<line x1="326.90000000000003" y1="339.5" x2="326.90000000000003" y2="333.5" stroke="#444" stroke-width="1"/>
<line x1="326.90000000000003" y1="234.5" x2="326.90000000000003" y2="240.5" stroke="#444" stroke-width="1"/>
<line x1="363.0" y1="339.5" x2="363.0" y2="333.5" stroke="#444" stroke-width="1"/>
<line x1="363.0" y1="234.5" x2="363.0" y2="240.5" stroke="#444" stroke-width="1"/>
<text x="281.1" y="250.7" font-size="14.2" text-anchor="start" fill="#111" textLength="18.8" lengthAdjust="spacingAndGlyphs" stroke="#111" stroke-width="0.3">104</text>
<clipPath id="ph2"><polygon points="423.7,244.3 460.5,245.0 482.3,287.5 460.5,323.1 412.2,323.1 395.0,288.6"/></clipPath>
<g clip-path="url(#ph2)"><g filter="url(#pnz)">
<rect x="384.6" y="234.5" width="104.89999999999998" height="105.0" fill="#98ca6c"/>
<ellipse cx="414.6" cy="282.5" rx="8" ry="7" fill="#a8d4c0" filter="url(#bl2)"/>
<ellipse cx="425.6" cy="305.5" rx="7" ry="6" fill="#a8d4c0" filter="url(#bl2)"/>
<ellipse cx="444.6" cy="286.5" rx="6" ry="4" fill="#a0d0b8" filter="url(#bl2)"/>
<ellipse cx="399.6" cy="288.5" rx="4" ry="6" fill="#3a60b0" filter="url(#bl2)"/>
<clipPath id="pr2up"><polygon points="423.7,244.3 460.5,245.0 474.3,272.5 442.1,274.8"/></clipPath>
<g clip-path="url(#pr2up)"><polygon points="423.7,244.3 460.5,245.0 474.3,272.5 442.1,274.8" fill="#a452a4"/>
<ellipse cx="444.6" cy="250.5" rx="12" ry="6" fill="#e04090" filter="url(#bl2)"/>
<ellipse cx="459.6" cy="264.5" rx="8" ry="6" fill="#6050a8" filter="url(#bl2)"/>
<ellipse cx="444.6" cy="316.5" rx="6" ry="5" fill="#e0409a" filter="url(#bl2)"/>
<ellipse cx="456.6" cy="306.5" rx="7" ry="6" fill="#6050b0" filter="url(#bl2)"/>
<ellipse cx="464.6" cy="256.5" rx="4" ry="4" fill="#e84070" filter="url(#bl2)"/>
</g>
<line x1="442.1" y1="274.8" x2="423.7" y2="244.3" stroke="#1a3aa0" stroke-width="2"/>
<line x1="460.5" y1="245.0" x2="474.3" y2="272.5" stroke="#1a3aa0" stroke-width="2.4"/>
<line x1="474.3" y1="272.5" x2="442.1" y2="274.8" stroke="#1a3aa0" stroke-width="2.6"/>
<line x1="423.7" y1="244.3" x2="460.5" y2="245.0" stroke="#1a3aa0" stroke-width="1.2"/>
<clipPath id="pr2lo"><polygon points="436.3,323.1 447.8,296.7 477.7,295.5 460.5,323.1"/></clipPath>
<g clip-path="url(#pr2lo)"><polygon points="436.3,323.1 447.8,296.7 477.7,295.5 460.5,323.1" fill="#a452a4"/>
<ellipse cx="444.6" cy="250.5" rx="12" ry="6" fill="#e04090" filter="url(#bl2)"/>
<ellipse cx="459.6" cy="264.5" rx="8" ry="6" fill="#6050a8" filter="url(#bl2)"/>
<ellipse cx="444.6" cy="316.5" rx="6" ry="5" fill="#e0409a" filter="url(#bl2)"/>
<ellipse cx="456.6" cy="306.5" rx="7" ry="6" fill="#6050b0" filter="url(#bl2)"/>
<ellipse cx="464.6" cy="256.5" rx="4" ry="4" fill="#e84070" filter="url(#bl2)"/>
</g>
<line x1="436.3" y1="323.1" x2="447.8" y2="296.7" stroke="#1a50b0" stroke-width="1.5"/>
<line x1="447.8" y1="296.7" x2="477.7" y2="295.5" stroke="#1a3aa0" stroke-width="2.2"/>
<line x1="477.7" y1="295.5" x2="460.5" y2="323.1" stroke="#2a50b0" stroke-width="1.5"/>
<line x1="395.0" y1="288.6" x2="423.7" y2="244.3" stroke="#1a3aa0" stroke-width="2.4" stroke-dasharray="2.5 3.5"/>
<line x1="423.7" y1="244.3" x2="460.5" y2="245.0" stroke="#e8402a" stroke-width="2.4" stroke-dasharray="2.5 3.5"/>
<line x1="412.2" y1="323.1" x2="395.0" y2="288.6" stroke="#f0d020" stroke-width="2.4" stroke-dasharray="2.5 3.5"/>
</g></g>
<rect x="384.6" y="234.5" width="104.89999999999998" height="105.0" fill="none" stroke="#1a1a1a" stroke-width="1.4"/>
<line x1="384.6" y1="250.8" x2="390.6" y2="250.8" stroke="#444" stroke-width="1"/>
<line x1="489.5" y1="250.8" x2="483.5" y2="250.8" stroke="#444" stroke-width="1"/>
<line x1="384.6" y1="287.0" x2="390.6" y2="287.0" stroke="#444" stroke-width="1"/>
<line x1="489.5" y1="287.0" x2="483.5" y2="287.0" stroke="#444" stroke-width="1"/>
<line x1="384.6" y1="323.2" x2="390.6" y2="323.2" stroke="#444" stroke-width="1"/>
<line x1="489.5" y1="323.2" x2="483.5" y2="323.2" stroke="#444" stroke-width="1"/>
<line x1="400.0" y1="339.5" x2="400.0" y2="333.5" stroke="#444" stroke-width="1"/>
<line x1="400.0" y1="234.5" x2="400.0" y2="240.5" stroke="#444" stroke-width="1"/>
<line x1="436.70000000000005" y1="339.5" x2="436.70000000000005" y2="333.5" stroke="#444" stroke-width="1"/>
<line x1="436.70000000000005" y1="234.5" x2="436.70000000000005" y2="240.5" stroke="#444" stroke-width="1"/>
<line x1="472.8" y1="339.5" x2="472.8" y2="333.5" stroke="#444" stroke-width="1"/>
<line x1="472.8" y1="234.5" x2="472.8" y2="240.5" stroke="#444" stroke-width="1"/>
<text x="390.90000000000003" y="250.7" font-size="14.2" text-anchor="start" fill="#111" textLength="18.8" lengthAdjust="spacingAndGlyphs" stroke="#111" stroke-width="0.3">104</text>
<text x="246.7" y="256.4" font-size="15" fill="#333" textLength="24.0" lengthAdjust="spacingAndGlyphs" >200</text>
<text x="262.7" y="292.7" font-size="15" fill="#333" textLength="7.8" lengthAdjust="spacingAndGlyphs" >0</text>
<text x="240.8" y="329.1" font-size="15" fill="#333" textLength="29.9" lengthAdjust="spacingAndGlyphs" >-200</text>
<text transform="translate(241.5,292.2) rotate(-90)" font-size="14.5" text-anchor="middle" fill="#222" stroke="#222" stroke-width="0.45">Y (nm)</text>
<clipPath id="mh3"><polygon points="313.7,355.0 347.0,355.0 371.2,401.6 350.5,434.3 293.0,434.3 283.8,400.9"/></clipPath>
<g clip-path="url(#mh3)"><g filter="url(#mcm)">
<rect x="274.8" y="344.5" width="103.19999999999999" height="105.0" fill="#000"/>
<g filter="url(#bl2)"><polygon points="314.5,357.5 345.8,357.5 368.5,401.3 349.1,432.1 295.0,432.1 286.4,400.7" fill="#808080"/></g>
<g filter="url(#bl4)">
<ellipse cx="317.8" cy="386.5" rx="8" ry="8" fill="#b2b2b2" style="mix-blend-mode:lighten"/>
<ellipse cx="336.8" cy="400.5" rx="9" ry="7" fill="#adadad" style="mix-blend-mode:lighten"/>
<ellipse cx="305.8" cy="394.5" rx="7" ry="7" fill="#9e9e9e" style="mix-blend-mode:lighten"/>
<ellipse cx="342.8" cy="375.5" rx="6" ry="5" fill="#9e9e9e" style="mix-blend-mode:lighten"/>
<ellipse cx="313.8" cy="410.5" rx="8" ry="6" fill="#9e9e9e" style="mix-blend-mode:lighten"/>
<ellipse cx="349.8" cy="404.5" rx="6" ry="6" fill="#999999" style="mix-blend-mode:lighten"/>
</g>
<g filter="url(#bl1)" opacity="0.6"><polyline points="315.8,354.8 328.8,387.3 363.0,385.6" fill="none" stroke="#404040" stroke-width="2.6"/><polyline points="371.1,406.8 340.2,408.4 325.6,434.4" fill="none" stroke="#404040" stroke-width="2.6"/></g>
</g></g>
<rect x="274.8" y="344.5" width="103.19999999999999" height="105.0" fill="none" stroke="#1a1a1a" stroke-width="1.4"/>
<line x1="274.8" y1="360.8" x2="280.8" y2="360.8" stroke="#444" stroke-width="1"/>
<line x1="378.0" y1="360.8" x2="372.0" y2="360.8" stroke="#444" stroke-width="1"/>
<line x1="274.8" y1="397.0" x2="280.8" y2="397.0" stroke="#444" stroke-width="1"/>
<line x1="378.0" y1="397.0" x2="372.0" y2="397.0" stroke="#444" stroke-width="1"/>
<line x1="274.8" y1="433.2" x2="280.8" y2="433.2" stroke="#444" stroke-width="1"/>
<line x1="378.0" y1="433.2" x2="372.0" y2="433.2" stroke="#444" stroke-width="1"/>
<line x1="290.2" y1="449.5" x2="290.2" y2="443.5" stroke="#444" stroke-width="1"/>
<line x1="290.2" y1="344.5" x2="290.2" y2="350.5" stroke="#444" stroke-width="1"/>
<line x1="326.90000000000003" y1="449.5" x2="326.90000000000003" y2="443.5" stroke="#444" stroke-width="1"/>
<line x1="326.90000000000003" y1="344.5" x2="326.90000000000003" y2="350.5" stroke="#444" stroke-width="1"/>
<line x1="363.0" y1="449.5" x2="363.0" y2="443.5" stroke="#444" stroke-width="1"/>
<line x1="363.0" y1="344.5" x2="363.0" y2="350.5" stroke="#444" stroke-width="1"/>
<text x="281.1" y="360.7" font-size="14.2" text-anchor="start" fill="#111" textLength="18.8" lengthAdjust="spacingAndGlyphs" stroke="#111" stroke-width="0.3">112</text>
<clipPath id="ph3"><polygon points="425.6,354.8 461.4,356.4 482.5,403.5 463.0,434.4 407.8,432.8 394.8,398.6"/></clipPath>
<g clip-path="url(#ph3)"><g filter="url(#pnz)">
<rect x="384.6" y="344.5" width="104.89999999999998" height="105.0" fill="#2a52a4"/>
<ellipse cx="416.6" cy="396.5" rx="9" ry="9" fill="#4a74bc" filter="url(#bl2)"/>
<ellipse cx="434.6" cy="392.5" rx="6" ry="4" fill="#4070b8" filter="url(#bl2)"/>
<ellipse cx="422.6" cy="420.5" rx="8" ry="6" fill="#4070b8" filter="url(#bl2)"/>
<ellipse cx="406.6" cy="384.5" rx="5" ry="6" fill="#4a74bc" filter="url(#bl2)"/>
<ellipse cx="464.6" cy="396.5" rx="6" ry="4" fill="#4070b8" filter="url(#bl2)"/>
<ellipse cx="398.6" cy="394.5" rx="3" ry="12" fill="#48b0d8" filter="url(#bl2)"/>
<clipPath id="pr3up"><polygon points="425.6,354.8 461.4,356.4 472.8,385.6 438.6,387.3"/></clipPath>
<g clip-path="url(#pr3up)"><polygon points="425.6,354.8 461.4,356.4 472.8,385.6 438.6,387.3" fill="#98ca6c"/>
<ellipse cx="436.6" cy="366.5" rx="5" ry="10" fill="#a8d4c0" filter="url(#bl2)"/>
<ellipse cx="459.6" cy="419.5" rx="6" ry="5" fill="#a0d0b0" filter="url(#bl2)"/>
</g>
<line x1="438.6" y1="387.3" x2="425.6" y2="354.8" stroke="#58c0e0" stroke-width="1.8"/>
<line x1="472.8" y1="385.6" x2="438.6" y2="387.3" stroke="#58c0e0" stroke-width="2"/>
<clipPath id="pr3lo"><polygon points="435.4,434.4 450.0,408.4 480.9,406.8 463.0,434.4"/></clipPath>
<g clip-path="url(#pr3lo)"><polygon points="435.4,434.4 450.0,408.4 480.9,406.8 463.0,434.4" fill="#98ca6c"/>
<ellipse cx="436.6" cy="366.5" rx="5" ry="10" fill="#a8d4c0" filter="url(#bl2)"/>
<ellipse cx="459.6" cy="419.5" rx="6" ry="5" fill="#a0d0b0" filter="url(#bl2)"/>
</g>
<line x1="435.4" y1="434.4" x2="450.0" y2="408.4" stroke="#58c0e0" stroke-width="1.6"/>
<line x1="450.0" y1="408.4" x2="480.9" y2="406.8" stroke="#58c0e0" stroke-width="2"/>
<line x1="407.8" y1="432.8" x2="394.8" y2="398.6" stroke="#48b4d8" stroke-width="2.4" stroke-dasharray="2.5 3.5"/>
<line x1="394.8" y1="398.6" x2="425.6" y2="354.8" stroke="#c04898" stroke-width="2.4" stroke-dasharray="2.5 3.5"/>
<line x1="461.4" y1="356.4" x2="482.5" y2="403.5" stroke="#e84040" stroke-width="2.4" stroke-dasharray="2.5 3.5"/>
</g></g>
<rect x="384.6" y="344.5" width="104.89999999999998" height="105.0" fill="none" stroke="#1a1a1a" stroke-width="1.4"/>
<line x1="384.6" y1="360.8" x2="390.6" y2="360.8" stroke="#444" stroke-width="1"/>
<line x1="489.5" y1="360.8" x2="483.5" y2="360.8" stroke="#444" stroke-width="1"/>
<line x1="384.6" y1="397.0" x2="390.6" y2="397.0" stroke="#444" stroke-width="1"/>
<line x1="489.5" y1="397.0" x2="483.5" y2="397.0" stroke="#444" stroke-width="1"/>
<line x1="384.6" y1="433.2" x2="390.6" y2="433.2" stroke="#444" stroke-width="1"/>
<line x1="489.5" y1="433.2" x2="483.5" y2="433.2" stroke="#444" stroke-width="1"/>
<line x1="400.0" y1="449.5" x2="400.0" y2="443.5" stroke="#444" stroke-width="1"/>
<line x1="400.0" y1="344.5" x2="400.0" y2="350.5" stroke="#444" stroke-width="1"/>
<line x1="436.70000000000005" y1="449.5" x2="436.70000000000005" y2="443.5" stroke="#444" stroke-width="1"/>
<line x1="436.70000000000005" y1="344.5" x2="436.70000000000005" y2="350.5" stroke="#444" stroke-width="1"/>
<line x1="472.8" y1="449.5" x2="472.8" y2="443.5" stroke="#444" stroke-width="1"/>
<line x1="472.8" y1="344.5" x2="472.8" y2="350.5" stroke="#444" stroke-width="1"/>
<text x="390.90000000000003" y="360.7" font-size="14.2" text-anchor="start" fill="#111" textLength="18.8" lengthAdjust="spacingAndGlyphs" stroke="#111" stroke-width="0.3">112</text>
<text x="246.7" y="366.4" font-size="15" fill="#333" textLength="24.0" lengthAdjust="spacingAndGlyphs" >200</text>
<text x="262.7" y="402.7" font-size="15" fill="#333" textLength="7.8" lengthAdjust="spacingAndGlyphs" >0</text>
<text x="240.8" y="439.1" font-size="15" fill="#333" textLength="29.9" lengthAdjust="spacingAndGlyphs" >-200</text>
<text transform="translate(241.5,402.2) rotate(-90)" font-size="14.5" text-anchor="middle" fill="#222" stroke="#222" stroke-width="0.45">Y (nm)</text>
<clipPath id="mh4"><polygon points="313.7,466.1 350.5,467.2 372.3,510.9 352.8,544.3 299.9,543.1 286.1,510.9"/></clipPath>
<g clip-path="url(#mh4)"><g filter="url(#mcm)">
<rect x="274.8" y="454.5" width="103.19999999999999" height="105.0" fill="#000"/>
<g filter="url(#bl2)"><polygon points="314.6,468.6 349.2,469.6 369.7,510.7 351.4,542.1 301.7,540.9 288.7,510.7" fill="#424242"/></g>
<g filter="url(#bl4)">
<ellipse cx="326.5" cy="508.5" rx="14" ry="10" fill="#b8b8b8" style="mix-blend-mode:lighten"/>
<ellipse cx="318.3" cy="500.5" rx="10" ry="9" fill="#adadad" style="mix-blend-mode:lighten"/>
<ellipse cx="332.8" cy="475.5" rx="10" ry="6" fill="#8c8c8c" style="mix-blend-mode:lighten"/>
<ellipse cx="342.8" cy="481.5" rx="8" ry="6" fill="#8c8c8c" style="mix-blend-mode:lighten"/>
<ellipse cx="311.8" cy="489.5" rx="7" ry="6" fill="#808080" style="mix-blend-mode:lighten"/>
<ellipse cx="344.8" cy="524.5" rx="10" ry="6" fill="#8c8c8c" style="mix-blend-mode:lighten"/>
<ellipse cx="352.8" cy="504.5" rx="6" ry="8" fill="#808080" style="mix-blend-mode:lighten"/>
<ellipse cx="321.8" cy="529.5" rx="6" ry="5" fill="#808080" style="mix-blend-mode:lighten"/>
<ellipse cx="313.8" cy="471.5" rx="5" ry="5" fill="#808080" style="mix-blend-mode:lighten"/>
</g>
<g filter="url(#bl1)" opacity="0.8"><polyline points="324.5,467.6 331.9,494.9 359.2,491.8" fill="none" stroke="#0d0d0d" stroke-width="2.6"/><polyline points="368.7,518.0 338.2,520.1 329.8,541.1" fill="none" stroke="#0d0d0d" stroke-width="2.6"/></g>
</g></g>
<rect x="274.8" y="454.5" width="103.19999999999999" height="105.0" fill="none" stroke="#1a1a1a" stroke-width="1.4"/>
<line x1="274.8" y1="470.8" x2="280.8" y2="470.8" stroke="#444" stroke-width="1"/>
<line x1="378.0" y1="470.8" x2="372.0" y2="470.8" stroke="#444" stroke-width="1"/>
<line x1="274.8" y1="507.0" x2="280.8" y2="507.0" stroke="#444" stroke-width="1"/>
<line x1="378.0" y1="507.0" x2="372.0" y2="507.0" stroke="#444" stroke-width="1"/>
<line x1="274.8" y1="543.2" x2="280.8" y2="543.2" stroke="#444" stroke-width="1"/>
<line x1="378.0" y1="543.2" x2="372.0" y2="543.2" stroke="#444" stroke-width="1"/>
<line x1="290.2" y1="559.5" x2="290.2" y2="553.5" stroke="#444" stroke-width="1"/>
<line x1="290.2" y1="454.5" x2="290.2" y2="460.5" stroke="#444" stroke-width="1"/>
<line x1="326.90000000000003" y1="559.5" x2="326.90000000000003" y2="553.5" stroke="#444" stroke-width="1"/>
<line x1="326.90000000000003" y1="454.5" x2="326.90000000000003" y2="460.5" stroke="#444" stroke-width="1"/>
<line x1="363.0" y1="559.5" x2="363.0" y2="553.5" stroke="#444" stroke-width="1"/>
<line x1="363.0" y1="454.5" x2="363.0" y2="460.5" stroke="#444" stroke-width="1"/>
<text x="281.1" y="470.7" font-size="14.2" text-anchor="start" fill="#111" textLength="18.8" lengthAdjust="spacingAndGlyphs" stroke="#111" stroke-width="0.3">203</text>
<clipPath id="ph4"><polygon points="421.7,466.6 461.6,467.6 482.6,512.7 462.7,545.3 412.3,542.1 396.6,510.6"/></clipPath>
<g clip-path="url(#ph4)"><g filter="url(#pnz)">
<rect x="384.6" y="454.5" width="104.89999999999998" height="105.0" fill="#b455a8"/>
<ellipse cx="472.6" cy="505.5" rx="9" ry="13" fill="#2e4aa4" filter="url(#bl2)"/>
<ellipse cx="420.6" cy="505.5" rx="9" ry="20" fill="#3a4ca6" filter="url(#bl2)"/>
<ellipse cx="417.6" cy="541.5" rx="10" ry="10" fill="#3450a8" filter="url(#bl2)"/>
<ellipse cx="442.6" cy="484.5" rx="5" ry="12" fill="#3050a8" filter="url(#bl2)"/>
<ellipse cx="404.6" cy="507.5" rx="4" ry="4" fill="#e83a3a" filter="url(#bl2)"/>
<ellipse cx="417.6" cy="513.5" rx="4" ry="3" fill="#e8403a" filter="url(#bl2)"/>
<ellipse cx="433.6" cy="531.5" rx="5" ry="4" fill="#e8403a" filter="url(#bl2)"/>
<ellipse cx="451.6" cy="504.5" rx="5" ry="3" fill="#e8403a" filter="url(#bl2)"/>
<ellipse cx="459.6" cy="499.5" rx="4" ry="3" fill="#e83a3a" filter="url(#bl2)"/>
<ellipse cx="430.6" cy="542.5" rx="4" ry="3" fill="#e84040" filter="url(#bl2)"/>
<ellipse cx="398.6" cy="488.5" rx="4" ry="4" fill="#e84040" filter="url(#bl2)"/>
<ellipse cx="422.6" cy="475.5" rx="6" ry="5" fill="#d84898" filter="url(#bl2)"/>
<ellipse cx="447.6" cy="509.5" rx="6" ry="5" fill="#e0409a" filter="url(#bl2)"/>
<ellipse cx="404.6" cy="519.5" rx="5" ry="6" fill="#c050a0" filter="url(#bl2)"/>
<clipPath id="pr4up"><polygon points="434.3,467.6 461.1,467.6 469.0,491.8 441.7,494.9"/></clipPath>
<g clip-path="url(#pr4up)"><polygon points="434.3,467.6 461.1,467.6 469.0,491.8 441.7,494.9" fill="#98ca6c"/>
<ellipse cx="446.6" cy="479.5" rx="9" ry="6" fill="#a8d8c8" filter="url(#bl2)"/>
<ellipse cx="459.6" cy="484.5" rx="6" ry="5" fill="#a0d4c4" filter="url(#bl2)"/>
<ellipse cx="466.6" cy="526.5" rx="7" ry="6" fill="#a8d8c8" filter="url(#bl2)"/>
<ellipse cx="452.6" cy="529.5" rx="5" ry="5" fill="#a0d0c0" filter="url(#bl2)"/>
</g>
<line x1="441.7" y1="494.9" x2="434.3" y2="467.6" stroke="#2040a0" stroke-width="3"/>
<line x1="469.0" y1="491.8" x2="441.7" y2="494.9" stroke="#f0d020" stroke-width="1.6"/>
<line x1="461.1" y1="467.6" x2="469.0" y2="491.8" stroke="#f0d020" stroke-width="1.2"/>
<clipPath id="pr4lo"><polygon points="439.6,541.1 448.0,520.1 478.5,518.0 462.7,545.3"/></clipPath>
<g clip-path="url(#pr4lo)"><polygon points="439.6,541.1 448.0,520.1 478.5,518.0 462.7,545.3" fill="#98ca6c"/>
<ellipse cx="446.6" cy="479.5" rx="9" ry="6" fill="#a8d8c8" filter="url(#bl2)"/>
<ellipse cx="459.6" cy="484.5" rx="6" ry="5" fill="#a0d4c4" filter="url(#bl2)"/>
<ellipse cx="466.6" cy="526.5" rx="7" ry="6" fill="#a8d8c8" filter="url(#bl2)"/>
<ellipse cx="452.6" cy="529.5" rx="5" ry="5" fill="#a0d0c0" filter="url(#bl2)"/>
</g>
<line x1="448.0" y1="520.1" x2="478.5" y2="518.0" stroke="#2040a0" stroke-width="1.6"/>
<line x1="439.6" y1="541.1" x2="448.0" y2="520.1" stroke="#f0d020" stroke-width="1.4"/>
<line x1="478.5" y1="518.0" x2="462.7" y2="545.3" stroke="#f0d020" stroke-width="1.2"/>
<line x1="396.6" y1="510.6" x2="421.7" y2="466.6" stroke="#f0d020" stroke-width="2.4" stroke-dasharray="2.5 3.5"/>
<line x1="412.3" y1="542.1" x2="396.6" y2="510.6" stroke="#e83a3a" stroke-width="2.4" stroke-dasharray="2.5 3.5"/>
<line x1="482.6" y1="512.7" x2="462.7" y2="545.3" stroke="#2a50b0" stroke-width="2.4" stroke-dasharray="2.5 3.5"/>
</g></g>
<rect x="384.6" y="454.5" width="104.89999999999998" height="105.0" fill="none" stroke="#1a1a1a" stroke-width="1.4"/>
<line x1="384.6" y1="470.8" x2="390.6" y2="470.8" stroke="#444" stroke-width="1"/>
<line x1="489.5" y1="470.8" x2="483.5" y2="470.8" stroke="#444" stroke-width="1"/>
<line x1="384.6" y1="507.0" x2="390.6" y2="507.0" stroke="#444" stroke-width="1"/>
<line x1="489.5" y1="507.0" x2="483.5" y2="507.0" stroke="#444" stroke-width="1"/>
<line x1="384.6" y1="543.2" x2="390.6" y2="543.2" stroke="#444" stroke-width="1"/>
<line x1="489.5" y1="543.2" x2="483.5" y2="543.2" stroke="#444" stroke-width="1"/>
<line x1="400.0" y1="559.5" x2="400.0" y2="553.5" stroke="#444" stroke-width="1"/>
<line x1="400.0" y1="454.5" x2="400.0" y2="460.5" stroke="#444" stroke-width="1"/>
<line x1="436.70000000000005" y1="559.5" x2="436.70000000000005" y2="553.5" stroke="#444" stroke-width="1"/>
<line x1="436.70000000000005" y1="454.5" x2="436.70000000000005" y2="460.5" stroke="#444" stroke-width="1"/>
<line x1="472.8" y1="559.5" x2="472.8" y2="553.5" stroke="#444" stroke-width="1"/>
<line x1="472.8" y1="454.5" x2="472.8" y2="460.5" stroke="#444" stroke-width="1"/>
<text x="390.90000000000003" y="470.7" font-size="14.2" text-anchor="start" fill="#111" textLength="18.8" lengthAdjust="spacingAndGlyphs" stroke="#111" stroke-width="0.3">203</text>
<text x="246.7" y="476.4" font-size="15" fill="#333" textLength="24.0" lengthAdjust="spacingAndGlyphs" >200</text>
<text x="262.7" y="512.7" font-size="15" fill="#333" textLength="7.8" lengthAdjust="spacingAndGlyphs" >0</text>
<text x="240.8" y="549.1" font-size="15" fill="#333" textLength="29.9" lengthAdjust="spacingAndGlyphs" >-200</text>
<text transform="translate(241.5,512.2) rotate(-90)" font-size="14.5" text-anchor="middle" fill="#222" stroke="#222" stroke-width="0.45">Y (nm)</text>
<text x="275.1" y="574.0" font-size="15" fill="#333" textLength="30.0" lengthAdjust="spacingAndGlyphs" >-200</text>
<text x="323.1" y="574.0" font-size="15" fill="#333" textLength="7.9" lengthAdjust="spacingAndGlyphs" >0</text>
<text x="350.2" y="574.0" font-size="15" fill="#333" textLength="23.5" lengthAdjust="spacingAndGlyphs" >200</text>
<text x="327.3" y="590.5" font-size="14.5" text-anchor="middle" fill="#222" stroke="#222" stroke-width="0.45">X (nm)</text>
<text x="384.9" y="574.0" font-size="15" fill="#333" textLength="30.0" lengthAdjust="spacingAndGlyphs" >-200</text>
<text x="432.9" y="574.0" font-size="15" fill="#333" textLength="7.9" lengthAdjust="spacingAndGlyphs" >0</text>
<text x="460.0" y="574.0" font-size="15" fill="#333" textLength="23.5" lengthAdjust="spacingAndGlyphs" >200</text>
<text x="437.1" y="590.5" font-size="14.5" text-anchor="middle" fill="#222" stroke="#222" stroke-width="0.45">X (nm)</text>
<line x1="398.4" y1="94" x2="414.5" y2="80.1" stroke="#222" stroke-width="1.1"/>
<line x1="475.4" y1="29.5" x2="454.7" y2="38.7" stroke="#222" stroke-width="1.1"/>
<line x1="473.1" y1="99.7" x2="459.3" y2="87" stroke="#222" stroke-width="1.1"/>
<text x="395.5" y="106.6" font-size="14.5" text-anchor="middle" fill="#222" >1</text>
<text x="482.3" y="30.7" font-size="14.5" text-anchor="middle" fill="#222" >2</text>
<text x="480" y="111.2" font-size="14.5" text-anchor="middle" fill="#222" >3</text>
<linearGradient id="modg" x1="0" x2="1"><stop offset="0" stop-color="#fff4c0"/><stop offset="0.2" stop-color="#fde08a"/><stop offset="0.4" stop-color="#f9b050"/><stop offset="0.55" stop-color="#f38a30"/><stop offset="0.7" stop-color="#e85a22"/><stop offset="0.85" stop-color="#d02020"/><stop offset="1" stop-color="#a01030"/></linearGradient>
<rect x="283.8" y="603.5" width="82" height="14" fill="url(#modg)" stroke="#1a1a1a" stroke-width="1.4"/>
<linearGradient id="phg" x1="0" x2="1"><stop offset="0" stop-color="#e04020"/><stop offset="0.1" stop-color="#f08010"/><stop offset="0.18" stop-color="#f8e020"/><stop offset="0.3" stop-color="#a8c840"/><stop offset="0.42" stop-color="#80b848"/><stop offset="0.5" stop-color="#a8d4c8"/><stop offset="0.55" stop-color="#70c8f0"/><stop offset="0.62" stop-color="#1a48a8"/><stop offset="0.72" stop-color="#1a3a98"/><stop offset="0.82" stop-color="#7a50a0"/><stop offset="0.9" stop-color="#b04898"/><stop offset="1" stop-color="#e82868"/></linearGradient>
<rect x="391.8" y="603.8" width="82" height="14" fill="url(#phg)" stroke="#1a1a1a" stroke-width="1.4"/>
<line x1="324.8" y1="617" x2="324.8" y2="614" stroke="#333" stroke-width="0.8"/>
<line x1="432.8" y1="617.3" x2="432.8" y2="614.3" stroke="#333" stroke-width="0.8"/>
<text x="280.4" y="630.8" font-size="15" fill="#333" textLength="7.2" lengthAdjust="spacingAndGlyphs" >0</text>
<text x="314.0" y="630.8" font-size="15" fill="#333" textLength="18.7" lengthAdjust="spacingAndGlyphs" >0.6</text>
<text x="351.7" y="630.8" font-size="15" fill="#333" textLength="19.9" lengthAdjust="spacingAndGlyphs" >1.2</text>
<text x="324" y="646" font-size="14.5" text-anchor="middle" fill="#222" textLength="102" lengthAdjust="spacingAndGlyphs" stroke="#222" stroke-width="0.45">Modulus (arb. u.)</text>
<text x="384.1" y="631.0" font-size="14" fill="#333" textLength="15.8" lengthAdjust="spacingAndGlyphs" font-family="Liberation Serif" style="font-family:Liberation Serif">−π</text>
<text x="429.7" y="630.8" font-size="15" fill="#333" textLength="7.4" lengthAdjust="spacingAndGlyphs" >0</text>
<text x="468.1" y="631.0" font-size="14" fill="#333" textLength="8.6" lengthAdjust="spacingAndGlyphs" style="font-family:Liberation Serif">π</text>
<text x="434.6" y="646" font-size="14.5" text-anchor="middle" fill="#222" textLength="101" lengthAdjust="spacingAndGlyphs" stroke="#222" stroke-width="0.45">Phases (radians)</text>
</svg></body></html>
